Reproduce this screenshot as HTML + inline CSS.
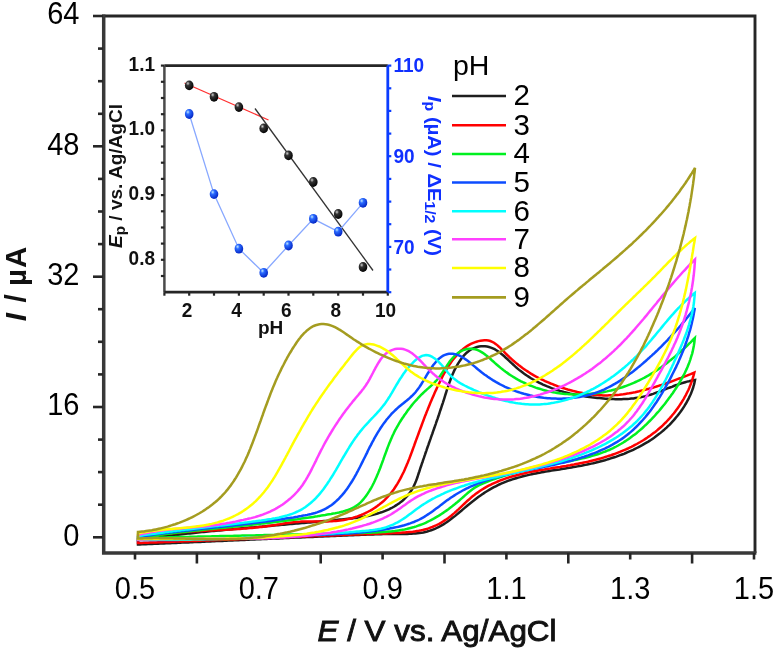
<!DOCTYPE html><html><head><meta charset="utf-8"><style>html,body{margin:0;padding:0;background:#fff;}svg{display:block;filter:blur(0.6px);}text{font-family:"Liberation Sans", sans-serif;}</style></head><body>
<svg width="778" height="651" viewBox="0 0 778 651">
<rect width="778" height="651" fill="#fff"/>
<g fill="none" stroke-width="2.5" stroke-linejoin="miter" stroke-linecap="round">
<path d="M138.0,539.6L140.0,539.3L142.0,539.1L144.0,538.8L146.0,538.5L148.0,538.3L150.0,538.0L152.0,537.8L153.9,537.5L155.9,537.3L157.9,537.0L159.9,536.8L161.9,536.5L163.9,536.3L165.9,536.1L167.9,535.8L169.9,535.6L171.9,535.4L173.9,535.1L175.9,534.9L177.9,534.7L179.9,534.4L181.9,534.2L183.9,534.0L185.9,533.8L187.9,533.6L189.9,533.4L191.9,533.2L193.9,532.9L195.9,532.7L197.9,532.5L199.9,532.3L201.9,532.1L203.9,531.9L205.9,531.7L207.9,531.5L209.9,531.3L211.9,531.1L213.9,530.9L215.9,530.7L217.9,530.5L219.9,530.4L221.9,530.2L223.9,530.0L225.9,529.8L227.9,529.6L229.9,529.4L231.9,529.2L233.9,529.0L235.9,528.9L237.9,528.7L239.9,528.5L241.9,528.3L243.9,528.1L245.9,528.0L247.9,527.8L249.9,527.6L251.9,527.4L253.9,527.3L255.9,527.1L257.9,526.9L259.9,526.7L261.9,526.6L263.9,526.4L265.9,526.2L267.9,526.0L269.9,525.9L271.9,525.7L273.9,525.5L275.9,525.3L277.9,525.2L279.9,525.0L281.9,524.8L284.0,524.7L286.0,524.5L288.0,524.3L290.0,524.1L292.0,524.0L294.0,523.8L296.0,523.6L298.0,523.4L300.0,523.3L302.0,523.1L304.0,522.9L306.0,522.7L308.0,522.6L310.0,522.4L312.0,522.2L314.0,522.0L316.0,521.8L318.0,521.7L320.0,521.5L322.0,521.3L324.0,521.1L326.0,520.9L328.0,520.7L330.0,520.6L332.0,520.4L334.0,520.2L336.0,520.0L338.0,519.8L340.0,519.6L342.0,519.4L344.0,519.2L346.0,519.0L348.0,518.8L350.0,518.6L352.0,518.4L354.0,518.1L356.0,517.9L358.0,517.6L360.0,517.3L362.0,517.0L363.9,516.7L365.9,516.3L367.9,515.9L369.9,515.5L371.8,515.1L373.8,514.6L375.7,514.1L377.6,513.5L379.6,512.9L381.5,512.3L383.4,511.6L385.2,510.9L387.1,510.1L388.9,509.3L390.7,508.4L392.5,507.5L394.3,506.5L396.0,505.4L397.7,504.3L399.3,503.2L400.9,501.9L402.5,500.7L404.0,499.3L405.4,497.9L406.8,496.5L408.1,495.0L409.4,493.4L410.5,491.8L411.6,490.1L412.6,488.3L413.6,486.6L414.4,484.7L415.2,482.9L416.0,481.0L416.7,479.2L417.4,477.3L418.0,475.4L418.6,473.5L419.3,471.5L419.9,469.6L420.5,467.7L421.2,465.8L421.8,463.9L422.5,462.0L423.1,460.1L423.8,458.2L424.4,456.3L425.1,454.4L425.7,452.5L426.4,450.6L427.0,448.7L427.7,446.8L428.4,444.9L429.0,443.0L429.7,441.1L430.4,439.2L431.0,437.3L431.7,435.4L432.4,433.5L433.0,431.6L433.7,429.7L434.4,427.8L435.0,426.0L435.7,424.1L436.3,422.2L437.0,420.3L437.7,418.4L438.3,416.5L439.0,414.5L439.6,412.6L440.2,410.7L440.9,408.8L441.5,406.9L442.1,405.0L442.8,403.1L443.4,401.2L444.0,399.3L444.6,397.4L445.2,395.4L445.8,393.5L446.4,391.6L447.0,389.7L447.6,387.8L448.3,385.9L448.9,384.0L449.6,382.1L450.3,380.2L451.0,378.3L451.7,376.4L452.5,374.6L453.3,372.7L454.1,370.9L455.0,369.1L456.0,367.3L456.9,365.6L457.9,363.8L459.0,362.1L460.1,360.5L461.3,358.8L462.5,357.2L463.8,355.7L465.2,354.2L466.6,352.8L468.2,351.5L469.8,350.3L471.5,349.2L473.3,348.3L475.1,347.6L477.0,347.0L479.0,346.5L481.0,346.3L483.0,346.2L485.0,346.3L487.0,346.6L489.0,347.0L490.9,347.6L492.8,348.4L494.6,349.2L496.3,350.2L498.0,351.3L499.6,352.5L501.2,353.7L502.8,355.0L504.3,356.3L505.8,357.7L507.3,359.0L508.7,360.4L510.2,361.8L511.6,363.2L513.1,364.5L514.6,365.9L516.1,367.3L517.6,368.6L519.1,369.9L520.7,371.1L522.3,372.3L523.9,373.5L525.6,374.7L527.2,375.8L528.9,376.9L530.6,378.0L532.3,379.0L534.1,380.0L535.8,381.0L537.6,381.9L539.4,382.8L541.2,383.7L543.0,384.6L544.9,385.4L546.7,386.2L548.6,386.9L550.5,387.7L552.3,388.4L554.2,389.0L556.1,389.7L558.0,390.3L560.0,390.9L561.9,391.4L563.8,392.0L565.8,392.5L567.7,393.0L569.7,393.5L571.6,393.9L573.6,394.3L575.6,394.7L577.6,395.1L579.5,395.5L581.5,395.8L583.5,396.1L585.5,396.4L587.5,396.7L589.5,397.0L591.5,397.3L593.4,397.5L595.4,397.7L597.4,397.9L599.4,398.1L601.4,398.3L603.4,398.5L605.5,398.7L607.5,398.8L609.5,398.9L611.5,399.0L613.5,399.1L615.5,399.2L617.5,399.2L619.5,399.2L621.5,399.2L623.5,399.1L625.5,399.0L627.5,398.9L629.5,398.8L631.5,398.6L633.5,398.4L635.5,398.1L637.5,397.8L639.5,397.5L641.5,397.1L643.4,396.6L645.4,396.2L647.3,395.6L649.3,395.1L651.2,394.5L653.1,393.9L655.0,393.2L656.9,392.5L658.8,391.8L660.7,391.1L662.5,390.4L664.4,389.7L666.3,388.9L668.1,388.2L670.0,387.5L671.9,386.8L673.8,386.0L675.7,385.3L677.5,384.7L679.4,384.0L681.4,383.4L683.3,382.8L685.2,382.2L687.1,381.6L689.1,381.2L691.0,380.7L693.0,380.3L695.0,380.0L695.0,380.0L694.6,382.0L694.2,383.9L693.6,385.9L693.1,387.8L692.4,389.7L691.7,391.6L691.0,393.5L690.2,395.3L689.3,397.1L688.5,398.9L687.5,400.7L686.6,402.5L685.5,404.2L684.5,405.9L683.4,407.6L682.3,409.3L681.1,411.0L680.0,412.6L678.7,414.2L677.5,415.8L676.2,417.3L674.9,418.9L673.6,420.4L672.2,421.9L670.9,423.3L669.5,424.8L668.0,426.2L666.6,427.6L665.1,428.9L663.6,430.3L662.0,431.6L660.5,432.9L658.9,434.1L657.3,435.3L655.7,436.5L654.1,437.7L652.4,438.9L650.8,440.0L649.1,441.1L647.4,442.2L645.6,443.2L643.9,444.2L642.2,445.2L640.4,446.2L638.6,447.1L636.8,448.0L635.0,448.9L633.2,449.8L631.4,450.6L629.5,451.4L627.7,452.2L625.8,453.0L624.0,453.8L622.1,454.5L620.2,455.2L618.3,455.9L616.4,456.6L614.5,457.2L612.6,457.8L610.7,458.4L608.8,459.0L606.8,459.6L604.9,460.2L603.0,460.7L601.0,461.2L599.1,461.7L597.1,462.2L595.2,462.7L593.2,463.2L591.3,463.6L589.3,464.1L587.3,464.5L585.4,464.9L583.4,465.3L581.4,465.7L579.4,466.0L577.5,466.4L575.5,466.8L573.5,467.1L571.5,467.4L569.5,467.8L567.5,468.1L565.5,468.4L563.6,468.7L561.6,469.0L559.6,469.4L557.6,469.7L555.6,470.0L553.6,470.3L551.6,470.6L549.7,470.9L547.7,471.3L545.7,471.6L543.7,471.9L541.7,472.3L539.7,472.7L537.8,473.0L535.8,473.4L533.8,473.8L531.8,474.2L529.9,474.6L527.9,475.1L526.0,475.6L524.0,476.0L522.1,476.5L520.1,477.1L518.2,477.6L516.2,478.2L514.3,478.8L512.4,479.4L510.5,480.0L508.6,480.7L506.7,481.4L504.9,482.1L503.0,482.9L501.1,483.7L499.3,484.5L497.5,485.4L495.7,486.3L493.9,487.2L492.1,488.2L490.4,489.2L488.7,490.2L486.9,491.2L485.2,492.3L483.6,493.4L481.9,494.5L480.2,495.7L478.6,496.8L477.0,498.0L475.4,499.2L473.8,500.5L472.2,501.7L470.6,503.0L469.1,504.2L467.5,505.5L466.0,506.8L464.4,508.1L462.9,509.4L461.4,510.7L459.8,512.0L458.3,513.3L456.7,514.6L455.2,515.9L453.6,517.1L452.0,518.3L450.4,519.6L448.8,520.7L447.1,521.9L445.5,523.0L443.8,524.1L442.1,525.2L440.3,526.2L438.5,527.1L436.7,528.0L434.9,528.9L433.0,529.6L431.2,530.3L429.2,530.9L427.3,531.5L425.3,532.0L423.4,532.4L421.4,532.7L419.4,533.0L417.4,533.2L415.4,533.4L413.4,533.6L411.4,533.7L409.4,533.8L407.4,533.9L405.4,533.9L403.3,534.0L401.3,534.0L399.3,534.0L397.3,534.0L395.3,534.0L393.3,534.0L391.3,534.0L389.3,534.0L387.3,534.0L385.2,534.1L383.2,534.1L381.2,534.2L379.2,534.2L377.2,534.3L375.2,534.3L373.2,534.4L371.2,534.5L369.2,534.5L367.1,534.6L365.1,534.7L363.1,534.8L361.1,534.8L359.1,534.9L357.1,535.0L355.1,535.1L353.1,535.2L351.1,535.2L349.1,535.3L347.0,535.4L345.0,535.5L343.0,535.6L341.0,535.7L339.0,535.7L337.0,535.8L335.0,535.9L333.0,536.0L331.0,536.1L328.9,536.2L326.9,536.3L324.9,536.3L322.9,536.4L320.9,536.5L318.9,536.6L316.9,536.7L314.9,536.8L312.9,536.9L310.9,536.9L308.8,537.0L306.8,537.1L304.8,537.2L302.8,537.3L300.8,537.4L298.8,537.5L296.8,537.6L294.8,537.6L292.8,537.7L290.8,537.8L288.7,537.9L286.7,538.0L284.7,538.1L282.7,538.2L280.7,538.3L278.7,538.4L276.7,538.4L274.7,538.5L272.7,538.6L270.7,538.7L268.6,538.8L266.6,538.9L264.6,539.0L262.6,539.1L260.6,539.2L258.6,539.3L256.6,539.3L254.6,539.4L252.6,539.5L250.6,539.6L248.6,539.7L246.5,539.8L244.5,539.9L242.5,540.0L240.5,540.1L238.5,540.2L236.5,540.2L234.5,540.3L232.5,540.4L230.5,540.5L228.5,540.6L226.4,540.7L224.4,540.8L222.4,540.9L220.4,541.0L218.4,541.1L216.4,541.1L214.4,541.2L212.4,541.3L210.4,541.4L208.4,541.5L206.3,541.6L204.3,541.7L202.3,541.8L200.3,541.9L198.3,541.9L196.3,542.0L194.3,542.1L192.3,542.2L190.3,542.3L188.3,542.4L186.2,542.5L184.2,542.6L182.2,542.6L180.2,542.7L178.2,542.8L176.2,542.9L174.2,543.0L172.2,543.1L170.2,543.2L168.2,543.2L166.1,543.3L164.1,543.4L162.1,543.5L160.1,543.6L158.1,543.7L156.1,543.8L154.1,543.8L152.1,543.9L150.1,544.0L148.1,544.1L146.0,544.2L144.0,544.3L142.0,544.3L140.0,544.4L138.0,544.5Z" stroke="#1e1e1e"/>
<path d="M138.0,539.0L140.0,538.5L141.9,538.1L143.9,537.7L145.8,537.2L147.8,536.8L149.8,536.5L151.8,536.1L153.7,535.8L155.7,535.4L157.7,535.1L159.7,534.8L161.7,534.5L163.7,534.2L165.7,534.0L167.7,533.7L169.7,533.5L171.7,533.3L173.7,533.1L175.7,532.9L177.7,532.7L179.7,532.5L181.7,532.3L183.7,532.1L185.7,532.0L187.7,531.8L189.7,531.7L191.7,531.6L193.7,531.4L195.7,531.3L197.7,531.2L199.7,531.1L201.7,531.0L203.7,530.8L205.7,530.7L207.7,530.6L209.8,530.5L211.8,530.4L213.8,530.3L215.8,530.2L217.8,530.1L219.8,530.0L221.8,529.9L223.8,529.8L225.8,529.7L227.8,529.6L229.8,529.5L231.8,529.4L233.8,529.3L235.9,529.1L237.9,529.0L239.9,528.9L241.9,528.7L243.9,528.6L245.9,528.4L247.9,528.3L249.9,528.1L251.9,527.9L253.9,527.7L255.9,527.5L257.9,527.3L259.9,527.1L261.9,526.9L263.9,526.6L265.9,526.4L267.9,526.1L269.9,525.8L271.8,525.5L273.8,525.2L275.8,524.9L277.8,524.6L279.8,524.3L281.8,523.9L283.8,523.6L285.7,523.3L287.7,523.1L289.7,522.8L291.7,522.5L293.7,522.3L295.7,522.1L297.7,521.9L299.7,521.8L301.7,521.6L303.7,521.6L305.7,521.5L307.8,521.5L309.8,521.4L311.8,521.4L313.8,521.4L315.8,521.4L317.8,521.4L319.8,521.4L321.8,521.4L323.8,521.4L325.8,521.4L327.9,521.4L329.9,521.3L331.9,521.2L333.9,521.1L335.9,520.9L337.9,520.8L339.9,520.5L341.9,520.3L343.9,519.9L345.8,519.6L347.8,519.1L349.8,518.7L351.7,518.2L353.6,517.6L355.6,517.0L357.5,516.4L359.3,515.7L361.2,515.0L363.1,514.2L364.9,513.3L366.7,512.5L368.5,511.5L370.3,510.6L372.0,509.6L373.7,508.5L375.4,507.4L377.0,506.3L378.6,505.1L380.2,503.8L381.8,502.5L383.3,501.2L384.8,499.8L386.2,498.4L387.6,497.0L388.9,495.5L390.2,494.0L391.5,492.4L392.7,490.8L393.9,489.2L395.0,487.5L396.1,485.8L397.2,484.1L398.2,482.4L399.2,480.6L400.2,478.9L401.1,477.1L402.0,475.3L402.9,473.5L403.8,471.7L404.6,469.9L405.4,468.0L406.2,466.2L407.0,464.3L407.8,462.5L408.5,460.6L409.3,458.7L410.0,456.9L410.7,455.0L411.4,453.1L412.1,451.2L412.8,449.3L413.5,447.4L414.2,445.5L414.8,443.7L415.5,441.8L416.2,439.9L416.9,438.0L417.6,436.1L418.3,434.2L419.0,432.3L419.7,430.4L420.4,428.5L421.1,426.7L421.8,424.8L422.5,422.9L423.2,421.0L423.9,419.1L424.6,417.3L425.3,415.4L426.1,413.5L426.8,411.6L427.6,409.8L428.3,407.9L429.1,406.1L429.8,404.2L430.6,402.3L431.4,400.5L432.2,398.6L433.0,396.8L433.8,394.9L434.6,393.1L435.4,391.3L436.3,389.4L437.1,387.6L437.9,385.8L438.8,384.0L439.7,382.2L440.6,380.4L441.5,378.6L442.4,376.8L443.3,375.0L444.3,373.2L445.3,371.5L446.3,369.7L447.3,368.0L448.4,366.3L449.5,364.6L450.6,363.0L451.7,361.3L452.9,359.7L454.2,358.1L455.5,356.6L456.8,355.1L458.1,353.6L459.6,352.2L461.0,350.8L462.6,349.5L464.1,348.2L465.7,347.0L467.4,345.9L469.1,344.9L470.9,343.9L472.7,343.1L474.6,342.3L476.5,341.7L478.4,341.1L480.4,340.7L482.4,340.4L484.4,340.2L486.4,340.3L488.4,340.5L490.3,341.0L492.2,341.8L494.0,342.7L495.6,343.9L497.2,345.1L498.7,346.5L500.2,347.8L501.6,349.3L503.0,350.7L504.4,352.2L505.8,353.6L507.2,355.0L508.7,356.4L510.1,357.8L511.6,359.1L513.1,360.5L514.6,361.8L516.2,363.1L517.7,364.3L519.3,365.6L520.9,366.8L522.5,368.0L524.2,369.2L525.8,370.3L527.5,371.4L529.2,372.5L530.9,373.6L532.6,374.6L534.3,375.6L536.1,376.6L537.9,377.5L539.7,378.5L541.5,379.4L543.3,380.2L545.1,381.1L546.9,381.9L548.8,382.7L550.6,383.5L552.5,384.2L554.4,385.0L556.2,385.7L558.1,386.4L560.0,387.0L561.9,387.7L563.8,388.3L565.8,388.9L567.7,389.5L569.6,390.0L571.6,390.5L573.5,391.1L575.5,391.5L577.4,392.0L579.4,392.4L581.3,392.8L583.3,393.2L585.3,393.6L587.3,393.9L589.3,394.2L591.3,394.5L593.3,394.7L595.3,394.9L597.3,395.1L599.3,395.2L601.3,395.3L603.3,395.4L605.3,395.4L607.3,395.4L609.3,395.3L611.3,395.3L613.3,395.2L615.3,395.0L617.3,394.9L619.3,394.7L621.3,394.4L623.3,394.2L625.3,393.9L627.3,393.6L629.3,393.3L631.3,392.9L633.2,392.6L635.2,392.2L637.2,391.7L639.1,391.3L641.1,390.8L643.1,390.3L645.0,389.8L646.9,389.3L648.9,388.8L650.8,388.2L652.7,387.7L654.7,387.1L656.6,386.5L658.5,385.9L660.4,385.3L662.3,384.6L664.2,384.0L666.1,383.3L668.0,382.7L669.9,382.0L671.8,381.3L673.7,380.6L675.6,379.9L677.5,379.2L679.3,378.5L681.2,377.8L683.1,377.0L685.0,376.3L686.8,375.6L688.7,374.8L690.6,374.1L692.4,373.3L694.3,372.6L694.3,372.6L693.8,374.6L693.3,376.5L692.7,378.4L692.1,380.3L691.5,382.2L690.8,384.1L690.0,386.0L689.3,387.8L688.5,389.7L687.6,391.5L686.7,393.3L685.8,395.1L684.8,396.8L683.9,398.6L682.8,400.3L681.8,402.0L680.7,403.7L679.6,405.4L678.5,407.1L677.3,408.7L676.1,410.3L674.9,411.9L673.7,413.5L672.4,415.0L671.1,416.6L669.8,418.1L668.4,419.6L667.1,421.0L665.7,422.5L664.2,423.9L662.8,425.3L661.3,426.7L659.8,428.0L658.3,429.3L656.8,430.6L655.2,431.9L653.6,433.1L652.0,434.3L650.4,435.5L648.7,436.6L647.1,437.8L645.4,438.9L643.7,440.0L642.0,441.0L640.3,442.0L638.5,443.0L636.8,444.0L635.0,444.9L633.2,445.9L631.4,446.8L629.6,447.6L627.8,448.5L626.0,449.3L624.1,450.1L622.3,450.9L620.4,451.7L618.6,452.4L616.7,453.1L614.8,453.8L612.9,454.5L611.0,455.2L609.1,455.8L607.2,456.4L605.3,457.0L603.4,457.6L601.4,458.2L599.5,458.7L597.6,459.2L595.6,459.8L593.7,460.2L591.7,460.7L589.8,461.2L587.8,461.7L585.9,462.1L583.9,462.5L581.9,462.9L580.0,463.3L578.0,463.7L576.0,464.1L574.1,464.5L572.1,464.8L570.1,465.2L568.1,465.5L566.1,465.9L564.2,466.2L562.2,466.5L560.2,466.9L558.2,467.2L556.2,467.5L554.3,467.8L552.3,468.1L550.3,468.5L548.3,468.8L546.3,469.1L544.4,469.5L542.4,469.8L540.4,470.1L538.4,470.5L536.4,470.9L534.5,471.2L532.5,471.6L530.5,472.0L528.6,472.4L526.6,472.8L524.6,473.3L522.7,473.7L520.7,474.2L518.8,474.7L516.8,475.2L514.9,475.7L513.0,476.2L511.0,476.8L509.1,477.4L507.2,478.0L505.3,478.6L503.4,479.3L501.5,480.0L499.7,480.7L497.8,481.5L495.9,482.3L494.1,483.1L492.3,483.9L490.5,484.8L488.7,485.7L486.9,486.7L485.2,487.7L483.5,488.7L481.7,489.7L480.1,490.8L478.4,492.0L476.8,493.1L475.2,494.3L473.6,495.6L472.0,496.8L470.5,498.1L469.0,499.5L467.5,500.8L466.0,502.2L464.6,503.5L463.1,504.9L461.6,506.3L460.2,507.7L458.7,509.1L457.2,510.4L455.8,511.8L454.3,513.1L452.7,514.4L451.2,515.7L449.6,516.9L448.0,518.2L446.4,519.3L444.7,520.4L443.0,521.5L441.3,522.6L439.6,523.6L437.8,524.5L436.0,525.4L434.2,526.2L432.3,527.0L430.4,527.7L428.5,528.4L426.6,529.0L424.7,529.5L422.7,530.0L420.8,530.4L418.8,530.8L416.8,531.1L414.8,531.4L412.8,531.7L410.8,531.9L408.8,532.1L406.8,532.3L404.8,532.5L402.8,532.6L400.8,532.7L398.8,532.9L396.8,533.0L394.8,533.0L392.8,533.1L390.8,533.2L388.8,533.3L386.8,533.4L384.8,533.4L382.8,533.5L380.8,533.6L378.8,533.7L376.8,533.7L374.8,533.8L372.7,533.9L370.7,534.0L368.7,534.0L366.7,534.1L364.7,534.2L362.7,534.3L360.7,534.3L358.7,534.4L356.7,534.5L354.7,534.5L352.7,534.6L350.7,534.7L348.7,534.8L346.7,534.8L344.7,534.9L342.7,535.0L340.6,535.1L338.6,535.2L336.6,535.2L334.6,535.3L332.6,535.4L330.6,535.5L328.6,535.5L326.6,535.6L324.6,535.7L322.6,535.8L320.6,535.9L318.6,535.9L316.6,536.0L314.6,536.1L312.6,536.2L310.5,536.3L308.5,536.3L306.5,536.4L304.5,536.5L302.5,536.6L300.5,536.7L298.5,536.7L296.5,536.8L294.5,536.9L292.5,537.0L290.5,537.1L288.5,537.1L286.5,537.2L284.5,537.3L282.5,537.4L280.5,537.5L278.4,537.6L276.4,537.6L274.4,537.7L272.4,537.8L270.4,537.9L268.4,538.0L266.4,538.0L264.4,538.1L262.4,538.2L260.4,538.3L258.4,538.4L256.4,538.5L254.4,538.5L252.4,538.6L250.4,538.7L248.4,538.8L246.3,538.9L244.3,538.9L242.3,539.0L240.3,539.1L238.3,539.2L236.3,539.3L234.3,539.4L232.3,539.4L230.3,539.5L228.3,539.6L226.3,539.7L224.3,539.8L222.3,539.8L220.3,539.9L218.3,540.0L216.3,540.1L214.2,540.2L212.2,540.2L210.2,540.3L208.2,540.4L206.2,540.5L204.2,540.6L202.2,540.6L200.2,540.7L198.2,540.8L196.2,540.9L194.2,541.0L192.2,541.0L190.2,541.1L188.2,541.2L186.2,541.3L184.2,541.3L182.1,541.4L180.1,541.5L178.1,541.6L176.1,541.6L174.1,541.7L172.1,541.8L170.1,541.9L168.1,541.9L166.1,542.0L164.1,542.1L162.1,542.2L160.1,542.2L158.1,542.3L156.1,542.4L154.1,542.4L152.0,542.5L150.0,542.6L148.0,542.7L146.0,542.7L144.0,542.8L142.0,542.9L140.0,542.9L138.0,543.0Z" stroke="#ff0000"/>
<path d="M138.0,537.5L140.0,537.2L142.0,537.0L144.0,536.7L146.0,536.4L147.9,536.2L149.9,535.9L151.9,535.6L153.9,535.4L155.9,535.1L157.9,534.9L159.9,534.6L161.9,534.4L163.9,534.2L165.9,533.9L167.9,533.7L169.9,533.5L171.8,533.2L173.8,533.0L175.8,532.8L177.8,532.5L179.8,532.3L181.8,532.1L183.8,531.9L185.8,531.7L187.8,531.4L189.8,531.2L191.8,531.0L193.8,530.8L195.8,530.6L197.8,530.4L199.8,530.2L201.8,530.0L203.8,529.8L205.8,529.5L207.8,529.3L209.8,529.1L211.8,528.9L213.8,528.7L215.8,528.5L217.7,528.3L219.7,528.1L221.7,527.9L223.7,527.7L225.7,527.5L227.7,527.3L229.7,527.1L231.7,526.9L233.7,526.6L235.7,526.4L237.7,526.2L239.7,526.0L241.7,525.8L243.7,525.6L245.7,525.4L247.7,525.2L249.7,525.0L251.7,524.7L253.7,524.5L255.7,524.3L257.7,524.1L259.7,523.9L261.7,523.6L263.6,523.4L265.6,523.2L267.6,522.9L269.6,522.7L271.6,522.5L273.6,522.2L275.6,522.0L277.6,521.7L279.6,521.5L281.6,521.3L283.6,521.0L285.6,520.8L287.6,520.5L289.5,520.2L291.5,520.0L293.5,519.7L295.5,519.4L297.5,519.2L299.5,518.9L301.5,518.6L303.5,518.3L305.5,518.1L307.4,517.8L309.4,517.5L311.4,517.2L313.4,516.9L315.4,516.6L317.4,516.3L319.3,515.9L321.3,515.6L323.3,515.3L325.3,515.0L327.3,514.6L329.2,514.3L331.2,514.0L333.2,513.6L335.2,513.3L337.1,512.9L339.1,512.5L341.1,512.0L343.0,511.5L344.9,510.9L346.8,510.3L348.7,509.6L350.6,508.9L352.4,508.0L354.2,507.1L355.9,506.1L357.5,504.9L359.1,503.7L360.6,502.3L362.0,500.9L363.3,499.4L364.6,497.8L365.8,496.2L367.0,494.6L368.1,492.9L369.2,491.2L370.2,489.5L371.2,487.8L372.2,486.0L373.1,484.2L374.0,482.5L374.9,480.6L375.7,478.8L376.5,477.0L377.3,475.1L378.1,473.3L378.8,471.4L379.6,469.6L380.3,467.7L381.0,465.8L381.7,463.9L382.4,462.0L383.1,460.1L383.7,458.3L384.4,456.4L385.1,454.5L385.8,452.6L386.5,450.7L387.2,448.8L387.9,446.9L388.6,445.1L389.3,443.2L390.1,441.4L390.9,439.5L391.7,437.7L392.5,435.8L393.4,434.0L394.2,432.2L395.1,430.4L396.1,428.7L397.1,426.9L398.1,425.2L399.1,423.4L400.1,421.7L401.2,420.0L402.3,418.3L403.4,416.7L404.5,415.0L405.7,413.4L406.9,411.7L408.0,410.1L409.3,408.5L410.5,406.9L411.7,405.4L413.0,403.8L414.3,402.3L415.6,400.8L417.0,399.3L418.3,397.8L419.7,396.3L421.1,394.9L422.6,393.5L424.0,392.1L425.5,390.8L427.0,389.4L428.5,388.1L430.0,386.8L431.5,385.4L432.9,384.1L434.4,382.7L435.8,381.2L437.1,379.7L438.4,378.2L439.6,376.6L440.8,374.9L441.9,373.3L443.0,371.6L444.1,369.9L445.2,368.2L446.3,366.6L447.4,364.9L448.6,363.2L449.7,361.6L450.9,360.0L452.2,358.5L453.6,357.0L455.0,355.5L456.5,354.2L458.0,353.0L459.7,351.9L461.5,350.9L463.3,350.1L465.2,349.5L467.2,349.1L469.2,348.8L471.2,348.8L473.2,348.9L475.2,349.3L477.1,349.9L478.9,350.7L480.7,351.6L482.4,352.6L484.1,353.7L485.7,355.0L487.3,356.2L488.8,357.5L490.3,358.8L491.8,360.2L493.3,361.5L494.8,362.9L496.3,364.2L497.8,365.5L499.3,366.8L500.9,368.1L502.4,369.3L504.0,370.6L505.6,371.8L507.3,372.9L508.9,374.1L510.6,375.2L512.3,376.3L514.0,377.3L515.7,378.4L517.4,379.4L519.2,380.3L521.0,381.3L522.8,382.2L524.6,383.0L526.4,383.9L528.2,384.7L530.1,385.5L532.0,386.2L533.8,386.9L535.7,387.6L537.6,388.2L539.5,388.8L541.5,389.4L543.4,390.0L545.3,390.5L547.3,391.0L549.2,391.4L551.2,391.8L553.2,392.2L555.1,392.6L557.1,392.9L559.1,393.2L561.1,393.5L563.1,393.7L565.1,393.9L567.1,394.1L569.1,394.2L571.1,394.3L573.1,394.4L575.1,394.5L577.1,394.5L579.1,394.5L581.1,394.5L583.1,394.4L585.1,394.3L587.1,394.2L589.1,394.0L591.1,393.8L593.1,393.6L595.1,393.4L597.1,393.1L599.1,392.8L601.1,392.5L603.1,392.2L605.0,391.8L607.0,391.4L609.0,390.9L610.9,390.5L612.9,390.0L614.8,389.5L616.7,388.9L618.6,388.4L620.6,387.8L622.5,387.2L624.4,386.5L626.3,385.8L628.1,385.1L630.0,384.4L631.9,383.6L633.7,382.9L635.6,382.0L637.4,381.2L639.2,380.3L641.0,379.5L642.8,378.5L644.6,377.6L646.3,376.6L648.1,375.7L649.8,374.6L651.5,373.6L653.2,372.6L654.9,371.5L656.6,370.4L658.3,369.3L659.9,368.1L661.6,367.0L663.2,365.8L664.8,364.6L666.4,363.4L668.0,362.2L669.6,360.9L671.1,359.7L672.7,358.4L674.3,357.1L675.8,355.9L677.3,354.5L678.8,353.2L680.3,351.9L681.8,350.5L683.3,349.2L684.8,347.8L686.2,346.5L687.7,345.1L689.1,343.7L690.6,342.3L692.0,340.9L693.4,339.4L694.8,338.0L694.8,338.0L694.6,340.0L694.4,342.0L694.1,344.0L693.8,346.0L693.4,347.9L693.0,349.9L692.6,351.9L692.1,353.8L691.5,355.7L690.9,357.6L690.3,359.6L689.7,361.4L689.0,363.3L688.2,365.2L687.5,367.0L686.7,368.9L685.8,370.7L685.0,372.5L684.1,374.3L683.1,376.1L682.2,377.9L681.2,379.6L680.2,381.4L679.2,383.1L678.2,384.8L677.1,386.5L676.0,388.2L674.9,389.9L673.8,391.5L672.7,393.2L671.5,394.8L670.3,396.5L669.1,398.1L667.9,399.7L666.7,401.3L665.5,402.9L664.3,404.5L663.0,406.0L661.7,407.6L660.5,409.1L659.2,410.7L657.9,412.2L656.5,413.7L655.2,415.2L653.9,416.7L652.5,418.1L651.1,419.6L649.7,421.0L648.3,422.4L646.9,423.9L645.4,425.2L643.9,426.6L642.5,428.0L641.0,429.3L639.4,430.6L637.9,431.9L636.4,433.2L634.8,434.4L633.2,435.6L631.6,436.8L630.0,438.0L628.3,439.2L626.7,440.3L625.0,441.4L623.3,442.5L621.6,443.5L619.8,444.5L618.1,445.5L616.3,446.5L614.5,447.4L612.7,448.3L610.9,449.1L609.1,450.0L607.3,450.7L605.4,451.5L603.5,452.2L601.6,452.9L599.7,453.6L597.8,454.2L595.9,454.8L594.0,455.4L592.1,455.9L590.1,456.5L588.2,457.0L586.3,457.5L584.3,458.0L582.4,458.4L580.4,458.9L578.4,459.3L576.5,459.7L574.5,460.1L572.5,460.5L570.6,460.9L568.6,461.2L566.6,461.6L564.7,462.0L562.7,462.3L560.7,462.7L558.7,463.0L556.7,463.4L554.8,463.7L552.8,464.1L550.8,464.4L548.8,464.8L546.9,465.2L544.9,465.5L542.9,465.9L541.0,466.3L539.0,466.7L537.0,467.1L535.1,467.5L533.1,468.0L531.2,468.4L529.2,468.9L527.3,469.3L525.3,469.8L523.4,470.3L521.4,470.8L519.5,471.3L517.5,471.9L515.6,472.4L513.7,473.0L511.8,473.5L509.8,474.1L507.9,474.7L506.0,475.3L504.1,475.9L502.2,476.5L500.3,477.1L498.4,477.7L496.5,478.4L494.6,479.0L492.7,479.7L490.8,480.4L488.9,481.0L487.0,481.8L485.2,482.5L483.3,483.3L481.5,484.1L479.7,485.0L477.9,485.9L476.1,486.9L474.4,487.9L472.8,489.1L471.2,490.3L469.6,491.5L468.0,492.8L466.5,494.1L465.0,495.4L463.5,496.8L462.0,498.1L460.5,499.4L459.0,500.7L457.5,502.0L455.9,503.3L454.4,504.6L452.8,505.8L451.2,507.1L449.6,508.3L448.0,509.5L446.4,510.6L444.7,511.8L443.1,512.9L441.4,514.0L439.7,515.1L438.0,516.2L436.3,517.2L434.6,518.2L432.8,519.2L431.0,520.1L429.2,521.0L427.4,521.9L425.6,522.8L423.8,523.6L421.9,524.3L420.0,525.0L418.2,525.7L416.3,526.4L414.3,527.0L412.4,527.5L410.5,528.0L408.5,528.5L406.6,529.0L404.6,529.4L402.6,529.7L400.7,530.1L398.7,530.4L396.7,530.7L394.7,531.0L392.7,531.2L390.7,531.4L388.7,531.6L386.7,531.8L384.7,532.0L382.7,532.1L380.7,532.2L378.7,532.3L376.7,532.4L374.7,532.5L372.7,532.6L370.7,532.7L368.7,532.7L366.7,532.8L364.7,532.8L362.7,532.9L360.7,532.9L358.7,533.0L356.7,533.0L354.6,533.1L352.6,533.1L350.6,533.2L348.6,533.2L346.6,533.3L344.6,533.3L342.6,533.3L340.6,533.4L338.6,533.4L336.6,533.5L334.6,533.5L332.6,533.6L330.6,533.6L328.6,533.7L326.6,533.7L324.6,533.8L322.5,533.8L320.5,533.9L318.5,533.9L316.5,533.9L314.5,534.0L312.5,534.0L310.5,534.1L308.5,534.1L306.5,534.2L304.5,534.2L302.5,534.3L300.5,534.3L298.5,534.4L296.5,534.4L294.5,534.5L292.5,534.5L290.5,534.5L288.4,534.6L286.4,534.6L284.4,534.7L282.4,534.7L280.4,534.8L278.4,534.8L276.4,534.9L274.4,534.9L272.4,535.0L270.4,535.0L268.4,535.1L266.4,535.1L264.4,535.1L262.4,535.2L260.4,535.2L258.4,535.3L256.4,535.3L254.3,535.4L252.3,535.4L250.3,535.5L248.3,535.5L246.3,535.6L244.3,535.6L242.3,535.6L240.3,535.7L238.3,535.7L236.3,535.8L234.3,535.8L232.3,535.9L230.3,535.9L228.3,536.0L226.3,536.0L224.3,536.1L222.3,536.1L220.2,536.1L218.2,536.2L216.2,536.2L214.2,536.3L212.2,536.3L210.2,536.4L208.2,536.4L206.2,536.5L204.2,536.5L202.2,536.6L200.2,536.6L198.2,536.6L196.2,536.7L194.2,536.7L192.2,536.8L190.2,536.8L188.1,536.9L186.1,536.9L184.1,537.0L182.1,537.0L180.1,537.1L178.1,537.1L176.1,537.1L174.1,537.2L172.1,537.2L170.1,537.3L168.1,537.3L166.1,537.4L164.1,537.4L162.1,537.5L160.1,537.5L158.1,537.5L156.1,537.6L154.0,537.6L152.0,537.7L150.0,537.7L148.0,537.8L146.0,537.8L144.0,537.9L142.0,537.9L140.0,538.0L138.0,538.0Z" stroke="#00f020"/>
<path d="M138.0,537.0L140.0,536.7L142.0,536.4L144.0,536.1L145.9,535.8L147.9,535.5L149.9,535.2L151.9,534.9L153.9,534.6L155.9,534.3L157.9,534.1L159.9,533.8L161.9,533.5L163.8,533.3L165.8,533.0L167.8,532.8L169.8,532.5L171.8,532.3L173.8,532.0L175.8,531.8L177.8,531.5L179.8,531.3L181.8,531.1L183.8,530.8L185.8,530.6L187.8,530.4L189.8,530.2L191.8,529.9L193.8,529.7L195.8,529.5L197.8,529.3L199.7,529.0L201.7,528.8L203.7,528.6L205.7,528.4L207.7,528.2L209.7,528.0L211.7,527.7L213.7,527.5L215.7,527.3L217.7,527.1L219.7,526.9L221.7,526.7L223.7,526.5L225.7,526.2L227.7,526.0L229.7,525.8L231.7,525.6L233.7,525.4L235.7,525.1L237.7,524.9L239.7,524.7L241.7,524.4L243.7,524.2L245.7,524.0L247.7,523.7L249.7,523.5L251.7,523.3L253.6,523.0L255.6,522.8L257.6,522.5L259.6,522.3L261.6,522.0L263.6,521.8L265.6,521.5L267.6,521.2L269.6,521.0L271.6,520.7L273.6,520.4L275.5,520.1L277.5,519.8L279.5,519.5L281.5,519.2L283.5,518.9L285.5,518.6L287.5,518.3L289.4,518.0L291.4,517.7L293.4,517.4L295.4,517.0L297.4,516.7L299.4,516.3L301.3,516.0L303.3,515.6L305.3,515.3L307.2,514.9L309.2,514.4L311.2,514.0L313.1,513.5L315.1,513.0L317.0,512.4L318.9,511.7L320.7,511.0L322.6,510.2L324.4,509.3L326.2,508.4L327.9,507.4L329.6,506.3L331.3,505.2L332.9,504.0L334.4,502.7L335.9,501.4L337.4,500.0L338.9,498.6L340.2,497.2L341.6,495.7L342.9,494.1L344.2,492.6L345.4,491.0L346.6,489.4L347.8,487.8L348.9,486.1L350.0,484.4L351.1,482.7L352.2,481.0L353.2,479.3L354.2,477.6L355.2,475.8L356.2,474.1L357.1,472.3L358.1,470.5L359.0,468.7L359.9,467.0L360.8,465.2L361.7,463.4L362.6,461.6L363.5,459.8L364.4,458.0L365.3,456.2L366.2,454.4L367.1,452.6L367.9,450.8L368.8,449.0L369.7,447.2L370.7,445.4L371.6,443.6L372.5,441.8L373.5,440.1L374.4,438.3L375.4,436.5L376.4,434.8L377.4,433.1L378.5,431.4L379.6,429.7L380.6,428.0L381.8,426.3L382.9,424.6L384.1,423.0L385.3,421.4L386.5,419.8L387.8,418.3L389.1,416.7L390.4,415.2L391.7,413.7L393.1,412.3L394.6,410.9L396.0,409.5L397.5,408.1L399.0,406.8L400.6,405.5L402.1,404.3L403.7,403.0L405.2,401.7L406.8,400.5L408.3,399.2L409.9,397.9L411.3,396.5L412.8,395.1L414.2,393.7L415.5,392.2L416.8,390.6L418.0,389.0L419.2,387.4L420.3,385.7L421.4,384.0L422.4,382.3L423.5,380.6L424.5,378.9L425.6,377.2L426.6,375.4L427.6,373.7L428.7,372.0L429.7,370.3L430.8,368.6L432.0,367.0L433.1,365.3L434.4,363.7L435.6,362.2L437.0,360.7L438.4,359.2L439.9,357.9L441.5,356.7L443.2,355.6L445.0,354.8L446.9,354.2L448.9,353.8L450.9,353.7L452.9,353.8L454.9,354.1L456.8,354.7L458.7,355.4L460.5,356.2L462.3,357.2L464.0,358.3L465.6,359.4L467.3,360.6L468.9,361.8L470.4,363.0L472.0,364.3L473.5,365.6L475.1,366.9L476.6,368.2L478.1,369.5L479.7,370.7L481.2,372.0L482.8,373.2L484.4,374.4L486.1,375.6L487.7,376.8L489.4,377.9L491.1,379.0L492.8,380.1L494.5,381.1L496.2,382.1L498.0,383.1L499.7,384.1L501.5,385.0L503.3,385.9L505.1,386.8L506.9,387.6L508.8,388.4L510.6,389.2L512.5,390.0L514.4,390.7L516.2,391.4L518.1,392.0L520.1,392.6L522.0,393.2L523.9,393.8L525.8,394.3L527.8,394.8L529.7,395.3L531.7,395.7L533.7,396.2L535.6,396.5L537.6,396.9L539.6,397.2L541.6,397.5L543.6,397.8L545.6,398.0L547.6,398.2L549.6,398.3L551.6,398.5L553.6,398.6L555.6,398.6L557.6,398.7L559.6,398.7L561.6,398.7L563.6,398.6L565.6,398.5L567.6,398.4L569.6,398.2L571.6,398.0L573.6,397.8L575.6,397.5L577.6,397.2L579.6,396.9L581.6,396.5L583.5,396.1L585.5,395.7L587.4,395.2L589.4,394.7L591.3,394.2L593.2,393.6L595.1,393.0L597.0,392.3L598.9,391.6L600.8,390.9L602.6,390.1L604.5,389.3L606.3,388.4L608.1,387.5L609.9,386.6L611.7,385.7L613.4,384.7L615.2,383.7L616.9,382.7L618.6,381.6L620.3,380.5L622.0,379.4L623.6,378.3L625.3,377.2L626.9,376.0L628.6,374.8L630.2,373.6L631.8,372.4L633.4,371.2L634.9,370.0L636.5,368.7L638.1,367.4L639.6,366.2L641.2,364.9L642.7,363.6L644.2,362.3L645.7,361.0L647.2,359.6L648.7,358.3L650.2,356.9L651.7,355.6L653.2,354.2L654.7,352.9L656.1,351.5L657.6,350.1L659.0,348.7L660.4,347.3L661.9,345.9L663.3,344.4L664.7,343.0L666.1,341.5L667.5,340.1L668.8,338.6L670.2,337.2L671.6,335.7L672.9,334.2L674.3,332.7L675.6,331.2L677.0,329.7L678.3,328.2L679.6,326.7L680.9,325.2L682.2,323.6L683.5,322.1L684.8,320.6L686.1,319.0L687.3,317.5L688.6,315.9L689.9,314.3L691.1,312.8L692.3,311.2L693.6,309.6L694.8,308.0L694.8,308.0L694.5,310.0L694.1,312.0L693.8,313.9L693.4,315.9L693.0,317.9L692.6,319.8L692.1,321.8L691.7,323.8L691.2,325.7L690.7,327.7L690.2,329.6L689.6,331.5L689.0,333.5L688.5,335.4L687.9,337.3L687.2,339.2L686.6,341.1L685.9,343.0L685.3,344.9L684.6,346.8L683.9,348.7L683.2,350.5L682.4,352.4L681.7,354.3L680.9,356.1L680.1,358.0L679.3,359.8L678.5,361.7L677.7,363.5L676.8,365.3L676.0,367.1L675.1,368.9L674.2,370.7L673.3,372.5L672.4,374.3L671.5,376.1L670.6,377.9L669.7,379.7L668.7,381.5L667.8,383.2L666.8,385.0L665.8,386.7L664.8,388.5L663.8,390.2L662.8,392.0L661.8,393.7L660.7,395.4L659.7,397.1L658.6,398.8L657.5,400.5L656.4,402.2L655.3,403.8L654.1,405.5L653.0,407.1L651.8,408.8L650.6,410.4L649.4,412.0L648.1,413.6L646.9,415.1L645.6,416.7L644.3,418.2L643.0,419.7L641.7,421.2L640.3,422.7L638.9,424.2L637.5,425.6L636.1,427.0L634.6,428.4L633.2,429.8L631.7,431.1L630.2,432.4L628.6,433.7L627.0,435.0L625.4,436.2L623.8,437.4L622.2,438.6L620.5,439.7L618.9,440.8L617.2,441.9L615.4,442.9L613.7,443.9L612.0,444.9L610.2,445.8L608.4,446.8L606.6,447.7L604.8,448.6L603.0,449.4L601.1,450.2L599.3,451.0L597.5,451.8L595.6,452.6L593.7,453.3L591.8,454.0L590.0,454.7L588.1,455.4L586.2,456.0L584.3,456.7L582.4,457.3L580.4,457.9L578.5,458.5L576.6,459.1L574.7,459.6L572.7,460.2L570.8,460.7L568.8,461.2L566.9,461.7L565.0,462.2L563.0,462.7L561.0,463.1L559.1,463.6L557.1,464.0L555.2,464.5L553.2,464.9L551.2,465.3L549.3,465.8L547.3,466.2L545.4,466.6L543.4,467.0L541.4,467.4L539.4,467.8L537.5,468.2L535.5,468.6L533.5,468.9L531.6,469.3L529.6,469.7L527.6,470.1L525.6,470.5L523.7,470.9L521.7,471.3L519.7,471.7L517.8,472.1L515.8,472.5L513.8,472.9L511.9,473.3L509.9,473.8L508.0,474.2L506.0,474.7L504.1,475.2L502.1,475.7L500.2,476.2L498.2,476.7L496.3,477.2L494.4,477.8L492.4,478.4L490.5,479.0L488.6,479.6L486.7,480.2L484.8,480.9L482.9,481.6L481.0,482.3L479.1,483.0L477.3,483.7L475.4,484.5L473.6,485.3L471.7,486.1L469.9,486.9L468.1,487.8L466.3,488.7L464.5,489.6L462.7,490.5L461.0,491.5L459.2,492.5L457.5,493.5L455.8,494.5L454.1,495.6L452.4,496.7L450.7,497.8L449.1,499.0L447.4,500.1L445.8,501.3L444.2,502.5L442.6,503.7L441.0,504.9L439.4,506.2L437.8,507.4L436.2,508.6L434.6,509.8L433.0,511.0L431.3,512.2L429.7,513.3L428.0,514.4L426.3,515.5L424.6,516.6L422.9,517.6L421.1,518.6L419.4,519.5L417.6,520.4L415.7,521.2L413.9,522.0L412.0,522.7L410.1,523.4L408.2,524.0L406.3,524.6L404.4,525.2L402.4,525.7L400.5,526.2L398.5,526.7L396.6,527.1L394.6,527.5L392.6,527.9L390.7,528.3L388.7,528.7L386.7,529.0L384.7,529.4L382.7,529.7L380.8,530.0L378.8,530.3L376.8,530.6L374.8,530.9L372.8,531.1L370.8,531.4L368.8,531.6L366.8,531.8L364.8,532.0L362.8,532.2L360.8,532.4L358.8,532.6L356.8,532.8L354.8,532.9L352.8,533.1L350.8,533.2L348.8,533.4L346.8,533.5L344.8,533.6L342.8,533.8L340.8,533.9L338.8,534.0L336.8,534.1L334.8,534.2L332.8,534.3L330.7,534.4L328.7,534.5L326.7,534.6L324.7,534.7L322.7,534.8L320.7,534.9L318.7,535.0L316.7,535.1L314.7,535.1L312.7,535.2L310.7,535.3L308.7,535.4L306.7,535.5L304.7,535.6L302.7,535.7L300.6,535.8L298.6,535.9L296.6,536.0L294.6,536.1L292.6,536.1L290.6,536.2L288.6,536.3L286.6,536.4L284.6,536.5L282.6,536.6L280.6,536.7L278.6,536.8L276.6,536.8L274.6,536.9L272.5,537.0L270.5,537.1L268.5,537.2L266.5,537.3L264.5,537.4L262.5,537.4L260.5,537.5L258.5,537.6L256.5,537.7L254.5,537.8L252.5,537.8L250.5,537.9L248.5,538.0L246.5,538.1L244.4,538.1L242.4,538.2L240.4,538.3L238.4,538.4L236.4,538.4L234.4,538.5L232.4,538.6L230.4,538.6L228.4,538.7L226.4,538.8L224.4,538.8L222.4,538.9L220.4,538.9L218.3,539.0L216.3,539.1L214.3,539.1L212.3,539.2L210.3,539.2L208.3,539.3L206.3,539.3L204.3,539.4L202.3,539.4L200.3,539.5L198.3,539.5L196.3,539.6L194.2,539.6L192.2,539.6L190.2,539.7L188.2,539.7L186.2,539.8L184.2,539.8L182.2,539.8L180.2,539.8L178.2,539.9L176.2,539.9L174.2,539.9L172.2,539.9L170.1,540.0L168.1,540.0L166.1,540.0L164.1,540.0L162.1,540.0L160.1,540.0L158.1,540.0L156.1,540.0L154.1,540.1L152.1,540.1L150.1,540.1L148.0,540.0L146.0,540.0L144.0,540.0L142.0,540.0L140.0,540.0L138.0,540.0Z" stroke="#0c4cff"/>
<path d="M138.0,536.0L140.0,535.7L142.0,535.4L144.0,535.1L145.9,534.8L147.9,534.6L149.9,534.3L151.9,534.0L153.9,533.7L155.9,533.5L157.9,533.2L159.9,532.9L161.8,532.7L163.8,532.4L165.8,532.1L167.8,531.9L169.8,531.6L171.8,531.4L173.8,531.1L175.8,530.9L177.8,530.6L179.8,530.4L181.8,530.1L183.7,529.9L185.7,529.6L187.7,529.4L189.7,529.2L191.7,528.9L193.7,528.7L195.7,528.4L197.7,528.2L199.7,528.0L201.7,527.7L203.7,527.5L205.7,527.3L207.7,527.0L209.7,526.8L211.6,526.6L213.6,526.3L215.6,526.1L217.6,525.9L219.6,525.6L221.6,525.4L223.6,525.2L225.6,524.9L227.6,524.7L229.6,524.5L231.6,524.2L233.6,524.0L235.6,523.8L237.6,523.5L239.5,523.3L241.5,523.0L243.5,522.8L245.5,522.5L247.5,522.3L249.5,522.0L251.5,521.8L253.5,521.5L255.5,521.3L257.5,521.0L259.5,520.7L261.4,520.5L263.4,520.2L265.4,519.9L267.4,519.6L269.4,519.3L271.4,519.0L273.3,518.6L275.3,518.3L277.3,517.9L279.3,517.5L281.2,517.0L283.2,516.5L285.1,516.0L287.0,515.5L288.9,514.9L290.8,514.3L292.7,513.6L294.6,512.8L296.4,512.0L298.3,511.2L300.0,510.3L301.8,509.3L303.5,508.3L305.2,507.2L306.8,506.0L308.4,504.8L310.0,503.5L311.5,502.2L313.0,500.9L314.5,499.5L315.9,498.1L317.2,496.6L318.6,495.1L319.9,493.6L321.2,492.0L322.4,490.5L323.6,488.9L324.8,487.2L326.0,485.6L327.1,484.0L328.2,482.3L329.4,480.6L330.4,478.9L331.5,477.2L332.6,475.5L333.6,473.8L334.6,472.1L335.7,470.4L336.7,468.6L337.7,466.9L338.7,465.2L339.7,463.4L340.7,461.7L341.7,460.0L342.7,458.2L343.7,456.5L344.7,454.8L345.8,453.0L346.8,451.3L347.8,449.6L348.9,447.9L349.9,446.2L351.0,444.5L352.1,442.8L353.2,441.1L354.3,439.5L355.5,437.8L356.7,436.2L357.8,434.6L359.1,433.0L360.3,431.4L361.6,429.9L362.9,428.3L364.2,426.8L365.5,425.3L366.9,423.8L368.3,422.4L369.6,420.9L371.0,419.4L372.4,418.0L373.8,416.5L375.1,415.1L376.5,413.6L377.8,412.1L379.2,410.6L380.5,409.1L381.8,407.5L383.0,406.0L384.3,404.4L385.5,402.8L386.6,401.1L387.7,399.5L388.8,397.8L389.9,396.1L390.9,394.4L392.0,392.7L393.0,390.9L394.0,389.2L395.0,387.5L396.0,385.7L397.0,384.0L398.1,382.3L399.1,380.5L400.2,378.8L401.3,377.2L402.4,375.5L403.5,373.8L404.7,372.2L405.9,370.6L407.1,369.0L408.4,367.5L409.7,366.0L411.1,364.5L412.5,363.1L413.9,361.6L415.4,360.3L416.9,359.0L418.6,357.8L420.3,356.8L422.1,355.9L424.0,355.4L426.0,355.1L428.0,355.3L429.9,355.8L431.8,356.7L433.5,357.7L435.1,358.8L436.7,360.1L438.2,361.4L439.6,362.8L441.0,364.3L442.3,365.8L443.6,367.3L444.9,368.9L446.2,370.4L447.4,372.0L448.7,373.5L450.1,375.0L451.5,376.5L452.9,377.8L454.5,379.1L456.1,380.3L457.7,381.5L459.4,382.6L461.1,383.6L462.9,384.6L464.6,385.5L466.4,386.4L468.2,387.3L470.0,388.2L471.8,389.0L473.7,389.9L475.5,390.7L477.4,391.5L479.2,392.3L481.1,393.0L482.9,393.8L484.8,394.5L486.7,395.2L488.6,395.9L490.5,396.5L492.4,397.2L494.3,397.8L496.2,398.4L498.1,398.9L500.0,399.5L502.0,400.0L503.9,400.5L505.9,401.0L507.8,401.4L509.8,401.9L511.8,402.2L513.7,402.6L515.7,403.0L517.7,403.3L519.7,403.5L521.7,403.8L523.7,404.0L525.7,404.2L527.7,404.3L529.7,404.4L531.7,404.5L533.7,404.5L535.7,404.5L537.7,404.4L539.7,404.4L541.7,404.2L543.7,404.1L545.7,403.9L547.7,403.7L549.7,403.4L551.7,403.1L553.7,402.8L555.6,402.4L557.6,402.0L559.6,401.6L561.5,401.1L563.5,400.6L565.4,400.1L567.3,399.5L569.2,398.9L571.1,398.3L573.0,397.7L574.9,397.0L576.8,396.3L578.7,395.6L580.5,394.8L582.4,394.0L584.2,393.2L586.0,392.4L587.9,391.5L589.7,390.6L591.4,389.7L593.2,388.8L595.0,387.8L596.7,386.8L598.5,385.8L600.2,384.8L601.9,383.8L603.6,382.7L605.3,381.6L607.0,380.5L608.7,379.4L610.3,378.3L611.9,377.1L613.6,375.9L615.2,374.7L616.8,373.5L618.4,372.3L619.9,371.0L621.5,369.8L623.0,368.5L624.6,367.2L626.1,365.9L627.6,364.6L629.1,363.2L630.6,361.9L632.0,360.5L633.5,359.1L634.9,357.7L636.4,356.3L637.8,354.9L639.2,353.4L640.5,352.0L641.9,350.5L643.3,349.0L644.6,347.6L646.0,346.1L647.3,344.5L648.6,343.0L649.9,341.5L651.2,340.0L652.5,338.4L653.8,336.9L655.1,335.4L656.4,333.8L657.6,332.3L658.9,330.7L660.2,329.2L661.5,327.6L662.7,326.1L664.0,324.5L665.3,323.0L666.6,321.5L667.9,319.9L669.2,318.4L670.5,316.9L671.8,315.4L673.2,313.9L674.5,312.4L675.8,310.9L677.2,309.4L678.6,308.0L680.0,306.5L681.4,305.1L682.8,303.7L684.2,302.3L685.7,300.9L687.2,299.5L688.7,298.2L690.2,296.8L691.7,295.5L693.2,294.3L694.8,293.0L694.8,293.0L694.7,295.0L694.5,297.0L694.3,299.0L694.1,301.0L693.9,303.0L693.6,305.0L693.3,307.0L692.9,308.9L692.5,310.9L692.1,312.9L691.7,314.8L691.2,316.8L690.7,318.8L690.2,320.7L689.6,322.6L689.1,324.6L688.5,326.5L687.9,328.4L687.2,330.3L686.6,332.2L685.9,334.1L685.2,336.0L684.5,337.8L683.8,339.7L683.0,341.6L682.3,343.4L681.5,345.3L680.7,347.2L679.9,349.0L679.1,350.8L678.3,352.7L677.5,354.5L676.7,356.4L675.9,358.2L675.0,360.0L674.2,361.8L673.4,363.7L672.5,365.5L671.7,367.3L670.8,369.1L669.9,370.9L669.1,372.8L668.2,374.6L667.3,376.4L666.4,378.2L665.5,380.0L664.6,381.7L663.6,383.5L662.7,385.3L661.7,387.0L660.7,388.8L659.7,390.5L658.7,392.3L657.7,394.0L656.7,395.7L655.6,397.4L654.5,399.1L653.4,400.8L652.3,402.5L651.1,404.1L650.0,405.8L648.8,407.4L647.6,409.0L646.3,410.6L645.1,412.1L643.8,413.7L642.5,415.2L641.2,416.7L639.8,418.2L638.4,419.6L637.0,421.1L635.6,422.5L634.1,423.8L632.6,425.2L631.1,426.5L629.5,427.8L628.0,429.1L626.4,430.3L624.8,431.5L623.2,432.7L621.6,433.9L619.9,435.0L618.2,436.2L616.6,437.3L614.9,438.3L613.2,439.4L611.4,440.4L609.7,441.4L607.9,442.4L606.2,443.4L604.4,444.3L602.6,445.2L600.8,446.1L599.0,447.0L597.2,447.9L595.4,448.7L593.5,449.5L591.7,450.3L589.9,451.1L588.0,451.9L586.1,452.7L584.3,453.4L582.4,454.1L580.5,454.8L578.6,455.5L576.7,456.2L574.8,456.9L572.9,457.5L571.0,458.2L569.1,458.8L567.2,459.4L565.3,460.0L563.4,460.6L561.5,461.2L559.5,461.7L557.6,462.3L555.7,462.8L553.7,463.4L551.8,463.9L549.8,464.4L547.9,464.9L546.0,465.4L544.0,465.9L542.1,466.4L540.1,466.9L538.2,467.4L536.2,467.8L534.2,468.3L532.3,468.8L530.3,469.2L528.4,469.7L526.4,470.1L524.5,470.5L522.5,471.0L520.5,471.4L518.6,471.9L516.6,472.3L514.6,472.7L512.7,473.2L510.7,473.6L508.8,474.0L506.8,474.5L504.8,474.9L502.9,475.4L500.9,475.8L499.0,476.3L497.0,476.7L495.1,477.2L493.1,477.6L491.1,478.1L489.2,478.6L487.2,479.1L485.3,479.6L483.3,480.1L481.4,480.6L479.5,481.1L477.5,481.6L475.6,482.2L473.7,482.7L471.7,483.3L469.8,483.8L467.9,484.4L466.0,485.0L464.1,485.7L462.1,486.3L460.2,486.9L458.3,487.6L456.5,488.3L454.6,489.0L452.7,489.7L450.8,490.4L449.0,491.2L447.1,491.9L445.3,492.7L443.4,493.6L441.6,494.4L439.8,495.3L438.0,496.1L436.2,497.0L434.4,498.0L432.6,498.9L430.9,499.9L429.1,500.9L427.4,501.9L425.7,503.0L424.0,504.0L422.3,505.1L420.6,506.3L419.0,507.4L417.4,508.6L415.7,509.8L414.1,511.0L412.5,512.2L410.9,513.4L409.3,514.6L407.7,515.8L406.1,517.0L404.4,518.1L402.7,519.2L401.0,520.3L399.3,521.3L397.6,522.3L395.8,523.2L394.0,524.1L392.2,525.0L390.3,525.7L388.4,526.4L386.5,527.1L384.6,527.7L382.7,528.2L380.7,528.7L378.7,529.1L376.8,529.4L374.8,529.8L372.8,530.1L370.8,530.3L368.8,530.6L366.8,530.8L364.8,531.0L362.8,531.1L360.8,531.3L358.8,531.5L356.8,531.6L354.8,531.8L352.8,532.0L350.8,532.1L348.8,532.3L346.8,532.4L344.8,532.6L342.8,532.7L340.8,532.8L338.8,533.0L336.8,533.1L334.8,533.2L332.8,533.4L330.7,533.5L328.7,533.6L326.7,533.8L324.7,533.9L322.7,534.0L320.7,534.1L318.7,534.2L316.7,534.4L314.7,534.5L312.7,534.6L310.7,534.7L308.7,534.8L306.7,534.9L304.7,535.1L302.7,535.2L300.7,535.3L298.7,535.4L296.6,535.5L294.6,535.6L292.6,535.7L290.6,535.8L288.6,535.9L286.6,536.0L284.6,536.1L282.6,536.2L280.6,536.3L278.6,536.4L276.6,536.5L274.6,536.6L272.6,536.7L270.6,536.8L268.6,536.9L266.5,537.0L264.5,537.1L262.5,537.2L260.5,537.3L258.5,537.4L256.5,537.5L254.5,537.5L252.5,537.6L250.5,537.7L248.5,537.8L246.5,537.9L244.5,537.9L242.5,538.0L240.5,538.1L238.4,538.2L236.4,538.2L234.4,538.3L232.4,538.4L230.4,538.4L228.4,538.5L226.4,538.6L224.4,538.6L222.4,538.7L220.4,538.8L218.4,538.8L216.4,538.9L214.3,538.9L212.3,539.0L210.3,539.0L208.3,539.1L206.3,539.1L204.3,539.2L202.3,539.2L200.3,539.2L198.3,539.3L196.3,539.3L194.3,539.3L192.2,539.4L190.2,539.4L188.2,539.4L186.2,539.5L184.2,539.5L182.2,539.5L180.2,539.5L178.2,539.6L176.2,539.6L174.2,539.6L172.2,539.6L170.1,539.6L168.1,539.6L166.1,539.6L164.1,539.6L162.1,539.6L160.1,539.6L158.1,539.6L156.1,539.6L154.1,539.6L152.1,539.6L150.1,539.6L148.0,539.6L146.0,539.6L144.0,539.6L142.0,539.5L140.0,539.5L138.0,539.5Z" stroke="#00ffff"/>
<path d="M138.0,535.0L139.9,534.5L141.9,534.0L143.9,533.6L145.8,533.2L147.8,532.8L149.8,532.4L151.7,532.0L153.7,531.7L155.7,531.4L157.7,531.1L159.7,530.8L161.7,530.5L163.7,530.2L165.7,530.0L167.7,529.8L169.6,529.5L171.6,529.3L173.6,529.1L175.6,528.9L177.6,528.7L179.6,528.5L181.6,528.4L183.6,528.2L185.6,528.0L187.6,527.8L189.6,527.7L191.7,527.5L193.7,527.3L195.7,527.1L197.7,526.9L199.7,526.8L201.7,526.6L203.7,526.4L205.7,526.2L207.7,526.0L209.6,525.7L211.6,525.5L213.6,525.3L215.6,525.0L217.6,524.7L219.6,524.4L221.6,524.1L223.6,523.8L225.6,523.5L227.5,523.1L229.5,522.8L231.5,522.4L233.5,522.0L235.4,521.6L237.4,521.1L239.3,520.7L241.3,520.3L243.3,519.9L245.2,519.4L247.2,519.0L249.2,518.5L251.1,518.1L253.1,517.6L255.0,517.1L256.9,516.5L258.9,515.9L260.8,515.3L262.7,514.7L264.5,513.9L266.4,513.2L268.3,512.4L270.1,511.6L271.9,510.7L273.7,509.8L275.5,508.9L277.2,507.9L278.9,506.8L280.6,505.8L282.3,504.7L284.0,503.5L285.6,502.3L287.2,501.1L288.7,499.8L290.3,498.5L291.8,497.2L293.2,495.8L294.7,494.4L296.0,493.0L297.4,491.5L298.7,489.9L300.0,488.4L301.2,486.8L302.4,485.2L303.5,483.5L304.6,481.8L305.7,480.1L306.7,478.4L307.7,476.7L308.7,474.9L309.7,473.2L310.6,471.4L311.5,469.6L312.4,467.8L313.3,466.0L314.2,464.2L315.1,462.4L316.0,460.6L316.8,458.8L317.7,457.0L318.6,455.2L319.5,453.4L320.4,451.6L321.3,449.8L322.3,448.0L323.2,446.2L324.1,444.5L325.1,442.7L326.1,440.9L327.1,439.2L328.1,437.4L329.1,435.7L330.1,434.0L331.1,432.3L332.2,430.5L333.2,428.8L334.3,427.1L335.4,425.4L336.5,423.8L337.6,422.1L338.7,420.4L339.8,418.8L341.0,417.1L342.1,415.5L343.3,413.8L344.5,412.2L345.7,410.6L346.9,409.0L348.1,407.4L349.4,405.8L350.6,404.2L351.9,402.7L353.1,401.1L354.4,399.6L355.7,398.0L357.0,396.5L358.3,395.0L359.6,393.4L360.9,391.9L362.1,390.3L363.4,388.7L364.6,387.1L365.7,385.5L366.8,383.8L367.9,382.1L368.9,380.3L369.9,378.6L370.8,376.8L371.8,375.0L372.7,373.3L373.6,371.5L374.6,369.7L375.5,367.9L376.5,366.2L377.5,364.4L378.5,362.7L379.6,361.0L380.7,359.3L381.9,357.8L383.2,356.2L384.6,354.8L386.1,353.4L387.7,352.2L389.5,351.2L391.3,350.3L393.2,349.6L395.1,349.1L397.1,348.8L399.1,348.7L401.1,348.8L403.1,349.1L405.0,349.6L406.9,350.3L408.7,351.2L410.4,352.2L412.1,353.3L413.7,354.6L415.2,355.9L416.7,357.2L418.2,358.6L419.6,360.0L421.0,361.4L422.4,362.9L423.8,364.4L425.2,365.8L426.5,367.3L427.9,368.7L429.4,370.1L430.8,371.5L432.3,372.9L433.8,374.2L435.3,375.6L436.8,376.8L438.4,378.1L440.0,379.3L441.7,380.4L443.3,381.5L445.0,382.6L446.8,383.7L448.5,384.7L450.3,385.6L452.1,386.6L453.9,387.4L455.7,388.3L457.5,389.1L459.4,389.9L461.2,390.6L463.1,391.4L465.0,392.0L466.9,392.7L468.8,393.3L470.7,393.9L472.6,394.5L474.6,395.1L476.5,395.6L478.5,396.1L480.4,396.5L482.4,397.0L484.3,397.4L486.3,397.7L488.3,398.1L490.3,398.4L492.3,398.7L494.3,398.9L496.3,399.1L498.3,399.3L500.3,399.4L502.3,399.5L504.3,399.6L506.3,399.6L508.3,399.6L510.3,399.5L512.3,399.4L514.3,399.3L516.3,399.1L518.3,398.9L520.3,398.7L522.3,398.4L524.3,398.1L526.3,397.8L528.3,397.4L530.2,397.0L532.2,396.6L534.1,396.1L536.1,395.6L538.0,395.1L540.0,394.6L541.9,394.0L543.8,393.4L545.7,392.8L547.6,392.2L549.5,391.5L551.4,390.8L553.3,390.1L555.2,389.3L557.0,388.6L558.9,387.8L560.7,387.0L562.5,386.1L564.3,385.3L566.2,384.4L567.9,383.5L569.7,382.6L571.5,381.7L573.3,380.7L575.0,379.7L576.8,378.7L578.5,377.7L580.2,376.7L581.9,375.6L583.6,374.5L585.3,373.5L587.0,372.3L588.7,371.2L590.3,370.1L592.0,368.9L593.6,367.7L595.2,366.5L596.8,365.3L598.4,364.1L600.0,362.9L601.6,361.6L603.1,360.3L604.7,359.1L606.2,357.8L607.7,356.4L609.2,355.1L610.7,353.8L612.2,352.4L613.7,351.1L615.1,349.7L616.6,348.3L618.0,346.9L619.5,345.5L620.9,344.1L622.3,342.6L623.7,341.2L625.1,339.7L626.5,338.3L627.8,336.8L629.2,335.3L630.5,333.8L631.9,332.4L633.2,330.9L634.6,329.4L635.9,327.8L637.2,326.3L638.5,324.8L639.8,323.3L641.1,321.7L642.4,320.2L643.7,318.7L645.0,317.1L646.3,315.6L647.6,314.0L648.8,312.5L650.1,310.9L651.4,309.4L652.7,307.8L653.9,306.3L655.2,304.7L656.5,303.2L657.7,301.6L659.0,300.0L660.3,298.5L661.6,296.9L662.8,295.4L664.1,293.8L665.4,292.3L666.7,290.7L668.0,289.2L669.2,287.7L670.5,286.1L671.8,284.6L673.1,283.1L674.5,281.5L675.8,280.0L677.1,278.5L678.4,277.0L679.8,275.5L681.1,274.0L682.4,272.5L683.8,271.0L685.2,269.6L686.5,268.1L687.9,266.6L689.3,265.2L690.7,263.7L692.1,262.3L693.6,260.9L695.0,259.5L695.0,259.5L694.9,261.5L694.8,263.5L694.6,265.5L694.5,267.5L694.3,269.5L694.1,271.5L693.9,273.5L693.7,275.5L693.4,277.5L693.2,279.5L692.9,281.5L692.6,283.5L692.3,285.5L692.0,287.4L691.6,289.4L691.3,291.4L690.9,293.4L690.5,295.3L690.1,297.3L689.6,299.3L689.2,301.2L688.7,303.2L688.2,305.1L687.7,307.1L687.2,309.0L686.7,310.9L686.1,312.9L685.6,314.8L685.0,316.7L684.4,318.6L683.8,320.5L683.1,322.4L682.5,324.3L681.8,326.2L681.1,328.1L680.4,330.0L679.7,331.9L679.0,333.8L678.2,335.6L677.5,337.5L676.7,339.3L675.9,341.2L675.1,343.0L674.2,344.8L673.4,346.7L672.5,348.5L671.7,350.3L670.8,352.1L669.9,353.9L669.0,355.7L668.1,357.5L667.1,359.3L666.2,361.0L665.3,362.8L664.3,364.6L663.4,366.3L662.4,368.1L661.5,369.9L660.5,371.6L659.5,373.4L658.5,375.1L657.6,376.9L656.6,378.7L655.6,380.4L654.7,382.2L653.7,383.9L652.7,385.7L651.7,387.4L650.7,389.2L649.7,390.9L648.7,392.7L647.7,394.4L646.7,396.1L645.7,397.8L644.6,399.6L643.5,401.3L642.5,403.0L641.4,404.6L640.2,406.3L639.1,408.0L637.9,409.6L636.8,411.2L635.5,412.8L634.3,414.4L633.1,416.0L631.8,417.5L630.4,419.0L629.1,420.5L627.7,422.0L626.3,423.4L624.9,424.8L623.4,426.2L621.9,427.5L620.4,428.9L618.9,430.1L617.3,431.4L615.7,432.6L614.1,433.8L612.5,435.0L610.8,436.2L609.2,437.3L607.5,438.4L605.8,439.5L604.1,440.5L602.3,441.5L600.6,442.5L598.8,443.5L597.1,444.4L595.3,445.4L593.5,446.3L591.7,447.2L589.9,448.0L588.1,448.9L586.2,449.7L584.4,450.5L582.6,451.3L580.7,452.1L578.8,452.8L577.0,453.6L575.1,454.3L573.2,455.0L571.3,455.7L569.4,456.4L567.6,457.0L565.7,457.7L563.8,458.4L561.8,459.0L559.9,459.6L558.0,460.2L556.1,460.8L554.2,461.4L552.3,462.0L550.3,462.6L548.4,463.1L546.5,463.7L544.5,464.2L542.6,464.8L540.7,465.3L538.7,465.8L536.8,466.3L534.8,466.8L532.9,467.3L531.0,467.8L529.0,468.3L527.0,468.7L525.1,469.2L523.1,469.6L521.2,470.1L519.2,470.5L517.3,470.9L515.3,471.4L513.3,471.8L511.4,472.2L509.4,472.6L507.4,473.0L505.5,473.4L503.5,473.8L501.5,474.1L499.5,474.5L497.6,474.9L495.6,475.2L493.6,475.6L491.6,476.0L489.7,476.3L487.7,476.7L485.7,477.0L483.7,477.4L481.7,477.7L479.8,478.1L477.8,478.5L475.8,478.8L473.8,479.2L471.9,479.6L469.9,480.0L467.9,480.4L466.0,480.8L464.0,481.2L462.0,481.6L460.1,482.0L458.1,482.5L456.2,482.9L454.2,483.4L452.3,483.9L450.3,484.4L448.4,484.9L446.4,485.4L444.5,486.0L442.6,486.6L440.7,487.2L438.8,487.8L436.9,488.4L435.0,489.1L433.1,489.7L431.2,490.5L429.3,491.2L427.5,491.9L425.6,492.7L423.8,493.6L422.0,494.4L420.2,495.3L418.4,496.2L416.6,497.2L414.9,498.2L413.2,499.2L411.5,500.3L409.8,501.4L408.1,502.6L406.5,503.7L404.9,504.9L403.2,506.1L401.6,507.2L400.0,508.4L398.3,509.6L396.7,510.7L395.0,511.8L393.3,512.9L391.6,514.0L389.9,515.0L388.1,515.9L386.3,516.9L384.5,517.7L382.7,518.6L380.9,519.4L379.0,520.2L377.2,520.9L375.3,521.7L373.4,522.4L371.5,523.0L369.6,523.7L367.7,524.3L365.8,524.9L363.8,525.4L361.9,526.0L360.0,526.5L358.0,527.0L356.1,527.5L354.1,528.0L352.2,528.5L350.2,528.9L348.3,529.4L346.3,529.8L344.3,530.2L342.4,530.6L340.4,531.0L338.4,531.3L336.4,531.7L334.5,532.0L332.5,532.3L330.5,532.7L328.5,533.0L326.5,533.3L324.5,533.5L322.6,533.8L320.6,534.1L318.6,534.3L316.6,534.6L314.6,534.8L312.6,535.0L310.6,535.3L308.6,535.5L306.6,535.7L304.6,535.9L302.6,536.1L300.6,536.2L298.6,536.4L296.6,536.6L294.6,536.7L292.6,536.9L290.6,537.0L288.6,537.2L286.6,537.3L284.6,537.4L282.6,537.5L280.6,537.6L278.6,537.7L276.5,537.8L274.5,537.9L272.5,538.0L270.5,538.1L268.5,538.2L266.5,538.2L264.5,538.3L262.5,538.4L260.5,538.4L258.5,538.5L256.5,538.5L254.5,538.6L252.5,538.6L250.5,538.6L248.4,538.7L246.4,538.7L244.4,538.7L242.4,538.7L240.4,538.8L238.4,538.8L236.4,538.8L234.4,538.8L232.4,538.8L230.4,538.8L228.4,538.8L226.4,538.8L224.3,538.8L222.3,538.8L220.3,538.8L218.3,538.8L216.3,538.8L214.3,538.8L212.3,538.8L210.3,538.8L208.3,538.8L206.3,538.8L204.3,538.8L202.3,538.8L200.2,538.8L198.2,538.8L196.2,538.8L194.2,538.8L192.2,538.8L190.2,538.8L188.2,538.7L186.2,538.7L184.2,538.7L182.2,538.7L180.2,538.8L178.2,538.8L176.1,538.8L174.1,538.8L172.1,538.8L170.1,538.8L168.1,538.8L166.1,538.8L164.1,538.9L162.1,538.9L160.1,538.9L158.1,538.9L156.1,539.0L154.1,539.0L152.1,539.1L150.0,539.1L148.0,539.2L146.0,539.2L144.0,539.3L142.0,539.4L140.0,539.4L138.0,539.5Z" stroke="#ff40ff"/>
<path d="M138.0,533.5L140.0,533.1L141.9,532.6L143.9,532.2L145.9,531.9L147.9,531.6L149.8,531.2L151.8,531.0L153.8,530.7L155.8,530.4L157.8,530.2L159.8,530.0L161.8,529.8L163.8,529.6L165.8,529.4L167.8,529.2L169.8,529.0L171.8,528.9L173.8,528.7L175.8,528.5L177.8,528.4L179.8,528.2L181.8,528.0L183.9,527.8L185.9,527.7L187.9,527.5L189.9,527.3L191.9,527.0L193.9,526.8L195.8,526.6L197.8,526.3L199.8,526.0L201.8,525.7L203.8,525.4L205.8,525.1L207.8,524.7L209.7,524.3L211.7,523.9L213.7,523.4L215.6,522.9L217.5,522.4L219.5,521.8L221.4,521.2L223.3,520.6L225.2,519.9L227.1,519.2L228.9,518.5L230.8,517.7L232.6,516.8L234.4,516.0L236.2,515.0L238.0,514.1L239.7,513.1L241.5,512.1L243.2,511.0L244.8,509.9L246.5,508.7L248.1,507.6L249.7,506.3L251.3,505.1L252.8,503.8L254.3,502.4L255.8,501.1L257.2,499.6L258.6,498.2L260.0,496.7L261.3,495.2L262.6,493.7L263.9,492.2L265.2,490.6L266.4,489.0L267.6,487.4L268.8,485.7L269.9,484.1L271.1,482.4L272.2,480.8L273.2,479.1L274.3,477.4L275.4,475.6L276.4,473.9L277.4,472.2L278.4,470.4L279.4,468.7L280.4,466.9L281.4,465.2L282.3,463.4L283.3,461.7L284.2,459.9L285.2,458.1L286.1,456.3L287.1,454.6L288.0,452.8L289.0,451.0L289.9,449.2L290.8,447.5L291.8,445.7L292.7,443.9L293.7,442.1L294.6,440.4L295.6,438.6L296.6,436.8L297.5,435.1L298.5,433.3L299.5,431.6L300.5,429.8L301.4,428.0L302.4,426.3L303.4,424.6L304.4,422.8L305.5,421.1L306.5,419.3L307.5,417.6L308.5,415.9L309.6,414.2L310.6,412.4L311.7,410.7L312.7,409.0L313.8,407.3L314.9,405.6L316.0,403.9L317.1,402.3L318.2,400.6L319.3,398.9L320.4,397.2L321.6,395.6L322.7,393.9L323.9,392.3L325.0,390.6L326.2,389.0L327.3,387.4L328.5,385.7L329.7,384.1L330.9,382.5L332.1,380.9L333.3,379.2L334.5,377.6L335.7,376.0L336.9,374.4L338.1,372.8L339.4,371.2L340.6,369.6L341.8,368.1L343.1,366.5L344.3,364.9L345.5,363.3L346.8,361.7L348.0,360.2L349.3,358.6L350.5,357.0L351.8,355.4L353.0,353.9L354.3,352.3L355.7,350.8L357.1,349.4L358.5,348.0L360.1,346.8L361.8,345.7L363.7,344.9L365.6,344.4L367.6,344.1L369.6,344.1L371.6,344.3L373.6,344.6L375.5,345.1L377.4,345.8L379.3,346.5L381.1,347.4L382.9,348.3L384.6,349.3L386.3,350.4L388.0,351.6L389.6,352.8L391.1,354.0L392.7,355.3L394.2,356.6L395.7,358.0L397.2,359.4L398.7,360.7L400.1,362.1L401.6,363.5L403.1,364.8L404.5,366.2L406.0,367.5L407.6,368.9L409.1,370.1L410.7,371.4L412.3,372.6L413.9,373.7L415.6,374.9L417.3,375.9L419.0,377.0L420.8,378.0L422.6,378.9L424.4,379.8L426.2,380.7L428.0,381.5L429.8,382.3L431.7,383.1L433.6,383.8L435.5,384.5L437.4,385.2L439.3,385.8L441.2,386.4L443.1,387.0L445.0,387.6L447.0,388.1L448.9,388.6L450.9,389.1L452.8,389.6L454.8,390.0L456.8,390.4L458.7,390.8L460.7,391.1L462.7,391.5L464.7,391.8L466.7,392.0L468.7,392.3L470.7,392.5L472.7,392.7L474.7,392.8L476.7,393.0L478.7,393.1L480.7,393.1L482.7,393.2L484.7,393.2L486.7,393.1L488.7,393.1L490.8,393.0L492.8,392.9L494.8,392.7L496.8,392.5L498.8,392.2L500.7,392.0L502.7,391.6L504.7,391.3L506.7,390.9L508.6,390.5L510.6,390.0L512.5,389.5L514.5,388.9L516.4,388.4L518.3,387.7L520.2,387.1L522.1,386.4L524.0,385.7L525.9,385.0L527.7,384.2L529.6,383.4L531.4,382.6L533.2,381.7L535.0,380.8L536.8,379.9L538.6,379.0L540.4,378.0L542.1,377.0L543.9,376.0L545.6,375.0L547.3,373.9L549.0,372.9L550.7,371.8L552.4,370.7L554.0,369.5L555.7,368.4L557.3,367.2L559.0,366.1L560.6,364.9L562.2,363.7L563.8,362.4L565.4,361.2L566.9,360.0L568.5,358.7L570.1,357.4L571.6,356.2L573.2,354.9L574.7,353.6L576.2,352.3L577.7,350.9L579.3,349.6L580.8,348.3L582.2,346.9L583.7,345.6L585.2,344.2L586.7,342.9L588.2,341.5L589.6,340.1L591.1,338.7L592.5,337.3L594.0,335.9L595.4,334.5L596.9,333.2L598.3,331.7L599.8,330.3L601.2,328.9L602.6,327.5L604.1,326.1L605.5,324.7L606.9,323.3L608.4,321.9L609.8,320.4L611.2,319.0L612.6,317.6L614.1,316.2L615.5,314.8L616.9,313.4L618.3,312.0L619.8,310.5L621.2,309.1L622.7,307.7L624.1,306.3L625.5,304.9L627.0,303.5L628.4,302.1L629.9,300.7L631.3,299.3L632.8,297.9L634.2,296.5L635.7,295.1L637.1,293.7L638.5,292.3L640.0,291.0L641.4,289.5L642.9,288.1L644.3,286.7L645.7,285.3L647.2,283.9L648.6,282.5L650.0,281.1L651.5,279.7L652.9,278.2L654.3,276.8L655.7,275.4L657.1,273.9L658.5,272.5L659.9,271.1L661.3,269.6L662.7,268.2L664.1,266.7L665.5,265.3L666.9,263.9L668.3,262.4L669.7,261.0L671.2,259.6L672.6,258.2L674.0,256.7L675.5,255.3L676.9,253.9L678.3,252.5L679.8,251.2L681.3,249.8L682.7,248.4L684.2,247.1L685.7,245.7L687.2,244.4L688.8,243.1L690.3,241.8L691.9,240.5L693.4,239.2L695.0,238.0L695.0,238.0L694.7,240.0L694.4,242.0L694.0,244.0L693.7,245.9L693.4,247.9L693.1,249.9L692.8,251.9L692.4,253.9L692.1,255.9L691.8,257.8L691.4,259.8L691.1,261.8L690.8,263.8L690.4,265.8L690.1,267.7L689.7,269.7L689.4,271.7L689.0,273.7L688.6,275.6L688.3,277.6L687.9,279.6L687.5,281.6L687.1,283.5L686.7,285.5L686.3,287.5L685.9,289.4L685.4,291.4L685.0,293.4L684.5,295.3L684.1,297.3L683.6,299.2L683.1,301.2L682.7,303.1L682.2,305.1L681.6,307.0L681.1,309.0L680.6,310.9L680.0,312.8L679.5,314.8L678.9,316.7L678.3,318.6L677.7,320.5L677.1,322.4L676.5,324.3L675.8,326.2L675.2,328.1L674.5,330.0L673.8,331.9L673.1,333.8L672.3,335.7L671.6,337.5L670.8,339.4L670.1,341.2L669.3,343.1L668.4,344.9L667.6,346.8L666.8,348.6L665.9,350.4L665.0,352.2L664.1,354.0L663.2,355.8L662.3,357.6L661.4,359.4L660.5,361.1L659.5,362.9L658.5,364.7L657.6,366.4L656.6,368.2L655.6,370.0L654.6,371.7L653.6,373.4L652.6,375.2L651.6,376.9L650.6,378.6L649.5,380.4L648.5,382.1L647.5,383.8L646.4,385.5L645.4,387.2L644.3,389.0L643.3,390.7L642.2,392.4L641.1,394.0L640.0,395.7L638.9,397.4L637.8,399.1L636.6,400.7L635.5,402.4L634.3,404.0L633.1,405.6L631.9,407.3L630.7,408.9L629.5,410.4L628.2,412.0L627.0,413.6L625.7,415.1L624.4,416.6L623.0,418.1L621.7,419.6L620.3,421.1L618.9,422.5L617.5,423.9L616.0,425.3L614.5,426.7L613.1,428.0L611.5,429.4L610.0,430.7L608.5,431.9L606.9,433.2L605.3,434.4L603.7,435.6L602.1,436.8L600.4,438.0L598.8,439.1L597.1,440.2L595.4,441.3L593.7,442.4L592.0,443.4L590.3,444.5L588.5,445.5L586.8,446.4L585.0,447.4L583.2,448.3L581.4,449.2L579.6,450.1L577.8,451.0L576.0,451.9L574.2,452.7L572.4,453.5L570.5,454.3L568.7,455.1L566.8,455.9L564.9,456.6L563.1,457.4L561.2,458.1L559.3,458.8L557.4,459.5L555.5,460.1L553.6,460.8L551.7,461.4L549.8,462.0L547.9,462.6L546.0,463.2L544.0,463.8L542.1,464.4L540.2,464.9L538.2,465.5L536.3,466.0L534.4,466.5L532.4,467.0L530.5,467.5L528.5,468.0L526.6,468.5L524.6,469.0L522.7,469.4L520.7,469.9L518.7,470.3L516.8,470.7L514.8,471.2L512.8,471.6L510.9,472.0L508.9,472.4L506.9,472.8L505.0,473.2L503.0,473.5L501.0,473.9L499.0,474.3L497.1,474.7L495.1,475.0L493.1,475.4L491.1,475.7L489.2,476.1L487.2,476.4L485.2,476.8L483.2,477.1L481.2,477.4L479.3,477.8L477.3,478.1L475.3,478.4L473.3,478.7L471.3,479.1L469.3,479.4L467.4,479.7L465.4,480.1L463.4,480.4L461.4,480.8L459.4,481.1L457.5,481.5L455.5,481.8L453.5,482.2L451.5,482.6L449.6,483.0L447.6,483.3L445.6,483.8L443.7,484.2L441.7,484.6L439.7,485.0L437.8,485.5L435.8,486.0L433.9,486.4L431.9,486.9L430.0,487.5L428.0,488.0L426.1,488.5L424.2,489.1L422.3,489.7L420.4,490.3L418.4,490.9L416.5,491.6L414.6,492.3L412.8,493.0L410.9,493.7L409.0,494.4L407.2,495.2L405.3,496.0L403.5,496.8L401.7,497.6L399.8,498.5L398.0,499.4L396.2,500.3L394.5,501.2L392.7,502.1L390.9,503.1L389.1,504.0L387.4,505.0L385.6,506.0L383.8,506.9L382.1,507.9L380.3,508.9L378.6,509.9L376.8,510.8L375.0,511.8L373.3,512.7L371.5,513.7L369.7,514.6L367.9,515.5L366.2,516.4L364.3,517.3L362.5,518.2L360.7,519.1L358.9,519.9L357.0,520.7L355.2,521.4L353.3,522.2L351.4,522.9L349.6,523.6L347.7,524.3L345.8,524.9L343.9,525.6L341.9,526.2L340.0,526.7L338.1,527.3L336.1,527.8L334.2,528.3L332.3,528.8L330.3,529.3L328.3,529.8L326.4,530.2L324.4,530.6L322.4,531.0L320.5,531.4L318.5,531.8L316.5,532.1L314.5,532.5L312.6,532.8L310.6,533.1L308.6,533.4L306.6,533.7L304.6,533.9L302.6,534.2L300.6,534.4L298.6,534.7L296.6,534.9L294.6,535.1L292.6,535.3L290.6,535.5L288.6,535.7L286.6,535.8L284.6,536.0L282.6,536.2L280.6,536.3L278.6,536.5L276.6,536.6L274.6,536.8L272.6,536.9L270.6,537.0L268.6,537.1L266.6,537.2L264.6,537.4L262.6,537.5L260.6,537.6L258.5,537.7L256.5,537.7L254.5,537.8L252.5,537.9L250.5,538.0L248.5,538.1L246.5,538.1L244.5,538.2L242.5,538.3L240.5,538.3L238.5,538.4L236.5,538.4L234.4,538.5L232.4,538.5L230.4,538.6L228.4,538.6L226.4,538.6L224.4,538.7L222.4,538.7L220.4,538.7L218.4,538.7L216.4,538.8L214.4,538.8L212.3,538.8L210.3,538.8L208.3,538.8L206.3,538.8L204.3,538.8L202.3,538.9L200.3,538.9L198.3,538.9L196.3,538.9L194.3,538.9L192.3,538.9L190.2,538.9L188.2,538.9L186.2,538.9L184.2,538.9L182.2,538.9L180.2,538.9L178.2,538.9L176.2,538.9L174.2,538.9L172.2,538.9L170.2,538.9L168.1,538.9L166.1,538.9L164.1,538.9L162.1,538.9L160.1,538.9L158.1,538.9L156.1,538.9L154.1,538.9L152.1,538.9L150.1,538.9L148.0,538.9L146.0,538.9L144.0,538.9L142.0,539.0L140.0,539.0L138.0,539.0Z" stroke="#ffff00"/>
<path d="M138.0,532.0L140.0,531.8L142.0,531.6L144.0,531.4L146.0,531.1L148.0,530.8L149.9,530.5L151.9,530.2L153.9,529.8L155.9,529.4L157.8,529.0L159.8,528.6L161.7,528.1L163.7,527.6L165.6,527.1L167.6,526.6L169.5,526.0L171.4,525.4L173.3,524.8L175.2,524.2L177.1,523.5L179.0,522.9L180.9,522.1L182.7,521.4L184.6,520.6L186.4,519.8L188.3,519.0L190.1,518.2L191.9,517.3L193.7,516.4L195.4,515.5L197.2,514.5L199.0,513.5L200.7,512.5L202.4,511.5L204.1,510.4L205.8,509.3L207.4,508.1L209.1,507.0L210.7,505.8L212.3,504.6L213.8,503.3L215.4,502.0L216.9,500.7L218.4,499.3L219.8,498.0L221.2,496.6L222.6,495.1L224.0,493.7L225.3,492.2L226.6,490.6L227.9,489.1L229.1,487.5L230.4,485.9L231.5,484.3L232.7,482.6L233.8,481.0L234.9,479.3L236.0,477.6L237.0,475.9L238.0,474.2L239.0,472.4L240.0,470.7L241.0,468.9L241.9,467.1L242.8,465.3L243.7,463.5L244.6,461.7L245.4,459.9L246.2,458.1L247.1,456.3L247.9,454.4L248.7,452.6L249.4,450.7L250.2,448.9L250.9,447.0L251.7,445.1L252.4,443.3L253.1,441.4L253.8,439.5L254.5,437.6L255.2,435.8L255.9,433.9L256.6,432.0L257.3,430.1L258.0,428.2L258.6,426.3L259.3,424.4L260.0,422.5L260.7,420.7L261.3,418.8L262.0,416.9L262.7,415.0L263.3,413.1L264.0,411.2L264.7,409.3L265.4,407.4L266.1,405.5L266.8,403.7L267.5,401.8L268.2,399.9L268.9,398.0L269.6,396.2L270.3,394.3L271.0,392.4L271.8,390.6L272.5,388.7L273.3,386.8L274.1,385.0L274.9,383.1L275.6,381.3L276.4,379.5L277.3,377.6L278.1,375.8L278.9,374.0L279.8,372.2L280.7,370.4L281.5,368.6L282.4,366.8L283.4,365.0L284.3,363.2L285.2,361.4L286.2,359.7L287.1,357.9L288.1,356.2L289.1,354.4L290.1,352.7L291.2,351.0L292.2,349.2L293.3,347.5L294.4,345.9L295.5,344.2L296.6,342.5L297.7,340.9L298.9,339.3L300.2,337.7L301.4,336.1L302.8,334.6L304.1,333.2L305.6,331.8L307.0,330.4L308.6,329.2L310.2,328.0L312.0,326.9L313.7,326.0L315.6,325.3L317.5,324.7L319.5,324.3L321.5,324.1L323.5,324.1L325.5,324.2L327.5,324.5L329.4,325.0L331.3,325.6L333.2,326.3L335.0,327.2L336.8,328.1L338.5,329.1L340.3,330.1L342.0,331.2L343.6,332.3L345.3,333.5L346.9,334.6L348.6,335.8L350.2,336.9L351.9,338.0L353.5,339.2L355.2,340.3L356.9,341.4L358.6,342.4L360.3,343.5L362.0,344.6L363.7,345.6L365.4,346.6L367.2,347.6L368.9,348.6L370.7,349.5L372.5,350.5L374.2,351.4L376.0,352.3L377.8,353.2L379.6,354.1L381.5,354.9L383.3,355.7L385.1,356.5L387.0,357.3L388.8,358.1L390.7,358.9L392.5,359.6L394.4,360.3L396.3,361.0L398.2,361.6L400.1,362.3L402.0,362.9L403.9,363.5L405.9,364.0L407.8,364.5L409.7,365.0L411.7,365.5L413.7,365.9L415.6,366.3L417.6,366.7L419.6,367.0L421.6,367.3L423.5,367.6L425.5,367.8L427.5,368.0L429.5,368.1L431.5,368.2L433.5,368.3L435.5,368.4L437.6,368.4L439.6,368.4L441.6,368.3L443.6,368.2L445.6,368.1L447.6,368.0L449.6,367.8L451.6,367.6L453.6,367.3L455.5,367.0L457.5,366.7L459.5,366.4L461.5,366.0L463.4,365.6L465.4,365.2L467.3,364.7L469.3,364.2L471.2,363.7L473.2,363.2L475.1,362.6L477.0,362.0L478.9,361.3L480.8,360.6L482.7,360.0L484.5,359.2L486.4,358.5L488.2,357.7L490.1,356.9L491.9,356.0L493.7,355.2L495.5,354.3L497.3,353.4L499.1,352.4L500.8,351.5L502.6,350.5L504.3,349.4L506.0,348.4L507.7,347.4L509.4,346.3L511.1,345.2L512.7,344.1L514.4,342.9L516.1,341.8L517.7,340.6L519.3,339.5L520.9,338.3L522.5,337.1L524.1,335.8L525.7,334.6L527.3,333.4L528.9,332.1L530.4,330.9L532.0,329.6L533.5,328.3L535.1,327.0L536.6,325.7L538.1,324.4L539.6,323.1L541.2,321.8L542.7,320.5L544.2,319.2L545.7,317.9L547.2,316.5L548.7,315.2L550.2,313.9L551.7,312.5L553.2,311.2L554.7,309.9L556.2,308.5L557.7,307.2L559.2,305.9L560.7,304.5L562.2,303.2L563.7,301.9L565.2,300.5L566.7,299.2L568.2,297.9L569.7,296.6L571.3,295.3L572.8,294.0L574.3,292.7L575.8,291.4L577.4,290.1L578.9,288.8L580.4,287.5L582.0,286.2L583.5,284.9L585.1,283.7L586.6,282.4L588.2,281.1L589.7,279.8L591.2,278.6L592.8,277.3L594.3,276.0L595.9,274.7L597.4,273.4L599.0,272.2L600.5,270.9L602.1,269.6L603.6,268.3L605.2,267.0L606.7,265.8L608.2,264.5L609.8,263.2L611.3,261.9L612.8,260.6L614.4,259.3L615.9,258.0L617.4,256.7L618.9,255.4L620.4,254.0L621.9,252.7L623.4,251.4L624.9,250.1L626.4,248.7L627.9,247.4L629.4,246.0L630.9,244.7L632.4,243.3L633.8,241.9L635.3,240.6L636.8,239.2L638.2,237.8L639.6,236.4L641.1,235.0L642.5,233.6L643.9,232.2L645.4,230.8L646.8,229.4L648.2,227.9L649.6,226.5L651.0,225.0L652.3,223.6L653.7,222.1L655.1,220.7L656.4,219.2L657.8,217.7L659.1,216.2L660.5,214.7L661.8,213.2L663.1,211.7L664.4,210.2L665.7,208.7L667.0,207.1L668.3,205.6L669.6,204.0L670.9,202.5L672.1,200.9L673.4,199.3L674.6,197.8L675.8,196.2L677.0,194.6L678.3,193.0L679.5,191.4L680.6,189.8L681.8,188.1L683.0,186.5L684.1,184.9L685.3,183.2L686.4,181.5L687.5,179.9L688.6,178.2L689.7,176.5L690.8,174.8L691.9,173.1L692.9,171.4L694.0,169.7L695.0,168.0L695.0,168.0L694.8,170.0L694.6,172.0L694.3,174.0L694.1,176.0L693.9,178.0L693.6,180.0L693.3,182.0L693.1,183.9L692.8,185.9L692.5,187.9L692.2,189.9L691.9,191.9L691.6,193.9L691.3,195.9L691.0,197.8L690.6,199.8L690.3,201.8L689.9,203.8L689.6,205.7L689.2,207.7L688.8,209.7L688.5,211.7L688.1,213.6L687.7,215.6L687.3,217.6L686.9,219.5L686.4,221.5L686.0,223.5L685.6,225.4L685.1,227.4L684.7,229.3L684.2,231.3L683.8,233.2L683.3,235.2L682.8,237.1L682.3,239.1L681.8,241.0L681.3,243.0L680.8,244.9L680.3,246.9L679.8,248.8L679.2,250.7L678.7,252.7L678.2,254.6L677.6,256.5L677.0,258.4L676.5,260.4L675.9,262.3L675.3,264.2L674.7,266.1L674.1,268.1L673.5,270.0L672.9,271.9L672.3,273.8L671.7,275.7L671.1,277.6L670.4,279.5L669.8,281.4L669.1,283.3L668.5,285.2L667.8,287.1L667.1,289.0L666.5,290.9L665.8,292.8L665.1,294.7L664.4,296.5L663.7,298.4L663.0,300.3L662.2,302.2L661.5,304.0L660.8,305.9L660.1,307.8L659.3,309.6L658.6,311.5L657.8,313.4L657.1,315.2L656.3,317.1L655.5,318.9L654.7,320.8L653.9,322.6L653.1,324.5L652.3,326.3L651.5,328.1L650.7,330.0L649.9,331.8L649.0,333.6L648.2,335.5L647.3,337.3L646.5,339.1L645.6,340.9L644.7,342.7L643.9,344.5L643.0,346.3L642.0,348.1L641.1,349.9L640.2,351.7L639.3,353.4L638.3,355.2L637.4,357.0L636.4,358.7L635.4,360.5L634.4,362.2L633.4,364.0L632.4,365.7L631.4,367.4L630.4,369.2L629.3,370.9L628.3,372.6L627.2,374.3L626.1,376.0L625.1,377.7L624.0,379.3L622.8,381.0L621.7,382.7L620.6,384.3L619.4,386.0L618.3,387.6L617.1,389.2L615.9,390.9L614.7,392.5L613.5,394.1L612.3,395.7L611.0,397.2L609.8,398.8L608.5,400.4L607.2,401.9L605.9,403.5L604.6,405.0L603.3,406.5L602.0,408.0L600.7,409.5L599.3,411.0L597.9,412.4L596.6,413.9L595.2,415.3L593.8,416.8L592.3,418.2L590.9,419.6L589.5,421.0L588.0,422.4L586.5,423.8L585.1,425.1L583.6,426.4L582.1,427.8L580.5,429.1L579.0,430.4L577.5,431.7L575.9,432.9L574.3,434.2L572.8,435.4L571.2,436.7L569.6,437.9L568.0,439.1L566.3,440.2L564.7,441.4L563.0,442.5L561.4,443.7L559.7,444.8L558.0,445.9L556.3,446.9L554.6,448.0L552.9,449.0L551.2,450.1L549.4,451.1L547.7,452.0L545.9,453.0L544.2,454.0L542.4,454.9L540.6,455.8L538.8,456.7L537.0,457.5L535.2,458.4L533.3,459.2L531.5,460.0L529.6,460.8L527.8,461.6L525.9,462.4L524.1,463.1L522.2,463.9L520.3,464.6L518.4,465.3L516.6,466.0L514.7,466.6L512.8,467.3L510.9,467.9L509.0,468.5L507.0,469.1L505.1,469.7L503.2,470.3L501.3,470.9L499.3,471.4L497.4,472.0L495.5,472.5L493.5,473.0L491.6,473.5L489.6,474.0L487.7,474.5L485.7,474.9L483.8,475.4L481.8,475.8L479.9,476.3L477.9,476.7L475.9,477.1L474.0,477.5L472.0,477.9L470.0,478.3L468.1,478.7L466.1,479.0L464.1,479.4L462.1,479.7L460.2,480.1L458.2,480.4L456.2,480.7L454.2,481.1L452.2,481.4L450.3,481.7L448.3,482.0L446.3,482.3L444.3,482.6L442.3,482.9L440.3,483.2L438.4,483.5L436.4,483.9L434.4,484.2L432.4,484.5L430.4,484.8L428.4,485.1L426.5,485.5L424.5,485.8L422.5,486.2L420.5,486.5L418.6,486.9L416.6,487.3L414.6,487.7L412.7,488.1L410.7,488.5L408.7,489.0L406.8,489.4L404.8,489.9L402.9,490.4L401.0,490.9L399.0,491.4L397.1,492.0L395.2,492.6L393.2,493.2L391.3,493.8L389.4,494.4L387.5,495.1L385.7,495.8L383.8,496.5L381.9,497.2L380.0,498.0L378.2,498.7L376.3,499.5L374.5,500.2L372.6,501.0L370.8,501.8L368.9,502.6L367.1,503.4L365.3,504.3L363.4,505.1L361.6,505.9L359.8,506.7L358.0,507.6L356.1,508.4L354.3,509.2L352.5,510.1L350.6,510.9L348.8,511.7L347.0,512.5L345.1,513.3L343.3,514.1L341.4,514.9L339.6,515.7L337.7,516.5L335.9,517.2L334.0,518.0L332.1,518.7L330.3,519.4L328.4,520.1L326.5,520.8L324.6,521.5L322.7,522.2L320.8,522.8L318.9,523.5L317.0,524.1L315.1,524.7L313.2,525.3L311.3,525.9L309.4,526.5L307.5,527.1L305.5,527.7L303.6,528.2L301.7,528.7L299.7,529.3L297.8,529.8L295.8,530.3L293.9,530.8L291.9,531.2L290.0,531.7L288.0,532.1L286.1,532.6L284.1,533.0L282.1,533.4L280.2,533.8L278.2,534.1L276.2,534.5L274.2,534.9L272.3,535.2L270.3,535.5L268.3,535.8L266.3,536.1L264.3,536.4L262.3,536.7L260.3,536.9L258.3,537.2L256.4,537.4L254.4,537.6L252.4,537.8L250.4,538.0L248.4,538.2L246.4,538.3L244.4,538.5L242.4,538.6L240.4,538.7L238.3,538.8L236.3,538.9L234.3,539.0L232.3,539.1L230.3,539.1L228.3,539.2L226.3,539.2L224.3,539.2L222.3,539.3L220.3,539.3L218.3,539.3L216.3,539.3L214.3,539.3L212.3,539.2L210.2,539.2L208.2,539.2L206.2,539.2L204.2,539.1L202.2,539.1L200.2,539.1L198.2,539.0L196.2,539.0L194.2,538.9L192.2,538.9L190.2,538.8L188.2,538.7L186.2,538.7L184.2,538.6L182.2,538.6L180.1,538.5L178.1,538.5L176.1,538.4L174.1,538.4L172.1,538.3L170.1,538.3L168.1,538.3L166.1,538.2L164.1,538.2L162.1,538.2L160.1,538.2L158.1,538.1L156.1,538.1L154.1,538.1L152.0,538.2L150.0,538.2L148.0,538.2L146.0,538.2L144.0,538.3L142.0,538.4L140.0,538.4L138.0,538.5Z" stroke="#a49c20"/>
</g>
<g stroke="#262626" fill="none">
<path d="M102.5,16 H755 V553" stroke-width="2.9"/>
<path d="M103.7,14.6 V553 H756.4" stroke-width="3.5" stroke="#383838"/>
<path d="M93,537.3 H103" stroke-width="2.6"/>
<path d="M98,504.7 H103" stroke-width="2.6"/>
<path d="M98,472.1 H103" stroke-width="2.6"/>
<path d="M98,439.6 H103" stroke-width="2.6"/>
<path d="M93,407.0 H103" stroke-width="2.6"/>
<path d="M98,374.4 H103" stroke-width="2.6"/>
<path d="M98,341.8 H103" stroke-width="2.6"/>
<path d="M98,309.2 H103" stroke-width="2.6"/>
<path d="M93,276.7 H103" stroke-width="2.6"/>
<path d="M98,244.1 H103" stroke-width="2.6"/>
<path d="M98,211.5 H103" stroke-width="2.6"/>
<path d="M98,178.9 H103" stroke-width="2.6"/>
<path d="M93,146.3 H103" stroke-width="2.6"/>
<path d="M98,113.8 H103" stroke-width="2.6"/>
<path d="M98,81.2 H103" stroke-width="2.6"/>
<path d="M98,48.6 H103" stroke-width="2.6"/>
<path d="M93,16.0 H103" stroke-width="2.6"/>
<path d="M135.0,553 V559.5" stroke-width="2.6"/>
<path d="M196.9,553 V563.5" stroke-width="2.6"/>
<path d="M258.8,553 V559.5" stroke-width="2.6"/>
<path d="M320.7,553 V563.5" stroke-width="2.6"/>
<path d="M382.6,553 V559.5" stroke-width="2.6"/>
<path d="M444.5,553 V563.5" stroke-width="2.6"/>
<path d="M506.4,553 V559.5" stroke-width="2.6"/>
<path d="M568.3,553 V563.5" stroke-width="2.6"/>
<path d="M630.2,553 V559.5" stroke-width="2.6"/>
<path d="M692.1,553 V563.5" stroke-width="2.6"/>
<path d="M754.0,553 V559.5" stroke-width="2.6"/>
</g>
<text x="0" y="0" transform="translate(79.50,545.60) scale(1.000,1.060)" font-size="29" fill="#000" text-anchor="end">0</text>
<text x="0" y="0" transform="translate(79.50,415.28) scale(1.000,1.060)" font-size="29" fill="#000" text-anchor="end">16</text>
<text x="0" y="0" transform="translate(79.50,284.96) scale(1.000,1.060)" font-size="29" fill="#000" text-anchor="end">32</text>
<text x="0" y="0" transform="translate(79.50,154.64) scale(1.000,1.060)" font-size="29" fill="#000" text-anchor="end">48</text>
<text x="0" y="0" transform="translate(79.50,24.32) scale(1.000,1.060)" font-size="29" fill="#000" text-anchor="end">64</text>
<text x="0" y="0" transform="translate(135.00,598.60) scale(1.000,1.070)" font-size="29" fill="#000" text-anchor="middle">0.5</text>
<text x="0" y="0" transform="translate(258.80,598.60) scale(1.000,1.070)" font-size="29" fill="#000" text-anchor="middle">0.7</text>
<text x="0" y="0" transform="translate(382.60,598.60) scale(1.000,1.070)" font-size="29" fill="#000" text-anchor="middle">0.9</text>
<text x="0" y="0" transform="translate(506.40,598.60) scale(1.000,1.070)" font-size="29" fill="#000" text-anchor="middle">1.1</text>
<text x="0" y="0" transform="translate(630.20,598.60) scale(1.000,1.070)" font-size="29" fill="#000" text-anchor="middle">1.3</text>
<text x="0" y="0" transform="translate(754.00,598.60) scale(1.000,1.070)" font-size="29" fill="#000" text-anchor="middle">1.5</text>
<text x="317.5" y="641" font-size="29.5" fill="#111" stroke="#111" stroke-width="0.9" textLength="239" lengthAdjust="spacingAndGlyphs"><tspan font-style="italic">E</tspan> / V vs. Ag/AgCl</text>
<text transform="translate(25.5,284) rotate(-90)" font-size="29.5" font-weight="bold" fill="#111" text-anchor="middle"><tspan font-style="italic">I</tspan><tspan dx="2.5"> / µ</tspan><tspan dx="1">A</tspan></text>
<text x="453" y="75" font-size="28.5" fill="#000">pH</text>
<path d="M452,96.0 H506" stroke="#1e1e1e" stroke-width="2.6"/>
<text x="513.5" y="105.3" font-size="29.5" fill="#000">2</text>
<path d="M452,125.2 H506" stroke="#ff0000" stroke-width="2.6"/>
<text x="513.5" y="134.5" font-size="29.5" fill="#000">3</text>
<path d="M452,154.0 H506" stroke="#00f020" stroke-width="2.6"/>
<text x="513.5" y="163.3" font-size="29.5" fill="#000">4</text>
<path d="M452,182.5 H506" stroke="#0c4cff" stroke-width="2.6"/>
<text x="513.5" y="191.8" font-size="29.5" fill="#000">5</text>
<path d="M452,211.3 H506" stroke="#00ffff" stroke-width="2.6"/>
<text x="513.5" y="220.6" font-size="29.5" fill="#000">6</text>
<path d="M452,239.3 H506" stroke="#ff40ff" stroke-width="2.6"/>
<text x="513.5" y="248.6" font-size="29.5" fill="#000">7</text>
<path d="M452,268.0 H506" stroke="#ffff00" stroke-width="2.6"/>
<text x="513.5" y="277.3" font-size="29.5" fill="#000">8</text>
<path d="M452,297.4 H506" stroke="#a49c20" stroke-width="2.6"/>
<text x="513.5" y="306.7" font-size="29.5" fill="#000">9</text>
<g fill="none">
<path d="M164.4,65.6 H387.8" stroke="#262626" stroke-width="2.8"/>
<path d="M164.4,65.6 V292.2" stroke="#4a4a4a" stroke-width="2.5"/>
<path d="M164.4,292.2 H387.8" stroke="#262626" stroke-width="2.8"/>
<path d="M387.8,65.6 V292.2" stroke="#0a3cff" stroke-width="2.8"/>
<path d="M160.9,65.6 H164.4" stroke="#262626" stroke-width="2.2"/>
<path d="M160.9,81.8 H164.4" stroke="#262626" stroke-width="2.2"/>
<path d="M160.9,98.0 H164.4" stroke="#262626" stroke-width="2.2"/>
<path d="M160.9,114.2 H164.4" stroke="#262626" stroke-width="2.2"/>
<path d="M160.9,130.3 H164.4" stroke="#262626" stroke-width="2.2"/>
<path d="M160.9,146.5 H164.4" stroke="#262626" stroke-width="2.2"/>
<path d="M160.9,162.7 H164.4" stroke="#262626" stroke-width="2.2"/>
<path d="M160.9,178.9 H164.4" stroke="#262626" stroke-width="2.2"/>
<path d="M160.9,195.1 H164.4" stroke="#262626" stroke-width="2.2"/>
<path d="M160.9,211.3 H164.4" stroke="#262626" stroke-width="2.2"/>
<path d="M160.9,227.5 H164.4" stroke="#262626" stroke-width="2.2"/>
<path d="M160.9,243.6 H164.4" stroke="#262626" stroke-width="2.2"/>
<path d="M160.9,259.8 H164.4" stroke="#262626" stroke-width="2.2"/>
<path d="M160.9,276.0 H164.4" stroke="#262626" stroke-width="2.2"/>
<path d="M164.4,292.2 V295.7" stroke="#262626" stroke-width="2.2"/>
<path d="M189.2,292.2 V295.7" stroke="#262626" stroke-width="2.2"/>
<path d="M214.0,292.2 V295.7" stroke="#262626" stroke-width="2.2"/>
<path d="M238.9,292.2 V295.7" stroke="#262626" stroke-width="2.2"/>
<path d="M263.7,292.2 V295.7" stroke="#262626" stroke-width="2.2"/>
<path d="M288.5,292.2 V295.7" stroke="#262626" stroke-width="2.2"/>
<path d="M313.3,292.2 V295.7" stroke="#262626" stroke-width="2.2"/>
<path d="M338.2,292.2 V295.7" stroke="#262626" stroke-width="2.2"/>
<path d="M363.0,292.2 V295.7" stroke="#262626" stroke-width="2.2"/>
<path d="M387.8,292.2 V295.7" stroke="#262626" stroke-width="2.2"/>
<path d="M387.8,65.6 H391.3" stroke="#0a3cff" stroke-width="2.2"/>
<path d="M387.8,88.3 H391.3" stroke="#0a3cff" stroke-width="2.2"/>
<path d="M387.8,110.9 H391.3" stroke="#0a3cff" stroke-width="2.2"/>
<path d="M387.8,133.6 H391.3" stroke="#0a3cff" stroke-width="2.2"/>
<path d="M387.8,156.2 H391.3" stroke="#0a3cff" stroke-width="2.2"/>
<path d="M387.8,178.9 H391.3" stroke="#0a3cff" stroke-width="2.2"/>
<path d="M387.8,201.6 H391.3" stroke="#0a3cff" stroke-width="2.2"/>
<path d="M387.8,224.2 H391.3" stroke="#0a3cff" stroke-width="2.2"/>
<path d="M387.8,246.9 H391.3" stroke="#0a3cff" stroke-width="2.2"/>
<path d="M387.8,269.5 H391.3" stroke="#0a3cff" stroke-width="2.2"/>
<path d="M387.8,292.2 H391.3" stroke="#0a3cff" stroke-width="2.2"/>
</g>
<text x="0" y="0" transform="translate(155.00,70.60) scale(1.000,1.080)" font-size="19" font-weight="bold" fill="#111" text-anchor="end">1.1</text>
<text x="0" y="0" transform="translate(155.00,135.34) scale(1.000,1.080)" font-size="19" font-weight="bold" fill="#111" text-anchor="end">1.0</text>
<text x="0" y="0" transform="translate(155.00,200.09) scale(1.000,1.080)" font-size="19" font-weight="bold" fill="#111" text-anchor="end">0.9</text>
<text x="0" y="0" transform="translate(155.00,264.83) scale(1.000,1.080)" font-size="19" font-weight="bold" fill="#111" text-anchor="end">0.8</text>
<text x="0" y="0" transform="translate(186.92,316.50) scale(1.000,1.080)" font-size="19" font-weight="bold" fill="#111" text-anchor="middle">2</text>
<text x="0" y="0" transform="translate(236.57,316.50) scale(1.000,1.080)" font-size="19" font-weight="bold" fill="#111" text-anchor="middle">4</text>
<text x="0" y="0" transform="translate(286.21,316.50) scale(1.000,1.080)" font-size="19" font-weight="bold" fill="#111" text-anchor="middle">6</text>
<text x="0" y="0" transform="translate(335.86,316.50) scale(1.000,1.080)" font-size="19" font-weight="bold" fill="#111" text-anchor="middle">8</text>
<text x="0" y="0" transform="translate(385.50,316.50) scale(1.000,1.080)" font-size="19" font-weight="bold" fill="#111" text-anchor="middle">10</text>
<text x="0" y="0" transform="translate(393.50,72.40) scale(1.000,1.080)" font-size="19" font-weight="bold" fill="#1030ff" text-anchor="start">110</text>
<text x="0" y="0" transform="translate(393.50,163.04) scale(1.000,1.080)" font-size="19" font-weight="bold" fill="#1030ff" text-anchor="start">90</text>
<text x="0" y="0" transform="translate(393.50,253.68) scale(1.000,1.080)" font-size="19" font-weight="bold" fill="#1030ff" text-anchor="start">70</text>
<text x="258" y="334" font-size="19" font-weight="bold" fill="#111">pH</text>
<text transform="translate(121.8,248) rotate(-90)" font-size="17.5" font-weight="bold" fill="#111" textLength="144" lengthAdjust="spacingAndGlyphs"><tspan font-style="italic">E</tspan><tspan font-size="14" dy="3">p</tspan><tspan dy="-3"> / vs. Ag/AgCl</tspan></text>
<text transform="translate(428,96) rotate(90)" font-size="19" font-weight="bold" fill="#1030ff" textLength="160" lengthAdjust="spacingAndGlyphs"><tspan font-style="italic">I</tspan><tspan font-size="15" dy="3">p</tspan><tspan dy="-3"> (µA) / ΔE</tspan><tspan font-size="15" dy="3">1/2</tspan><tspan dy="-3"> (V)</tspan></text>
<path d="M184.5,83 L268.5,120" stroke="#ff3030" stroke-width="1.3"/>
<path d="M255,108.5 L373,270.5" stroke="#333" stroke-width="1.3"/>
<polyline points="189.2,114.0 214.0,194.1 238.9,248.7 263.7,272.8 288.5,245.5 313.3,218.8 338.2,231.7 363.0,202.8" fill="none" stroke="#88a8ff" stroke-width="1.3"/>
<defs><radialGradient id="gb" cx="0.35" cy="0.3" r="0.75"><stop offset="0" stop-color="#bfe8ff"/><stop offset="0.3" stop-color="#2a6aff"/><stop offset="1" stop-color="#0020c0"/></radialGradient>
<radialGradient id="gk" cx="0.35" cy="0.3" r="0.75"><stop offset="0" stop-color="#d0d0d0"/><stop offset="0.3" stop-color="#333"/><stop offset="1" stop-color="#000"/></radialGradient></defs>
<ellipse cx="189.2" cy="85.4" rx="4.3" ry="4.9" fill="url(#gk)"/>
<ellipse cx="214.0" cy="96.8" rx="4.3" ry="4.9" fill="url(#gk)"/>
<ellipse cx="238.9" cy="107.1" rx="4.3" ry="4.9" fill="url(#gk)"/>
<ellipse cx="263.7" cy="128.4" rx="4.3" ry="4.9" fill="url(#gk)"/>
<ellipse cx="288.5" cy="155.4" rx="4.3" ry="4.9" fill="url(#gk)"/>
<ellipse cx="313.3" cy="182.0" rx="4.3" ry="4.9" fill="url(#gk)"/>
<ellipse cx="338.2" cy="214.0" rx="4.3" ry="4.9" fill="url(#gk)"/>
<ellipse cx="363.0" cy="267.0" rx="4.3" ry="4.9" fill="url(#gk)"/>
<ellipse cx="189.2" cy="114.0" rx="4.3" ry="4.9" fill="url(#gb)"/>
<ellipse cx="214.0" cy="194.1" rx="4.3" ry="4.9" fill="url(#gb)"/>
<ellipse cx="238.9" cy="248.7" rx="4.3" ry="4.9" fill="url(#gb)"/>
<ellipse cx="263.7" cy="272.8" rx="4.3" ry="4.9" fill="url(#gb)"/>
<ellipse cx="288.5" cy="245.5" rx="4.3" ry="4.9" fill="url(#gb)"/>
<ellipse cx="313.3" cy="218.8" rx="4.3" ry="4.9" fill="url(#gb)"/>
<ellipse cx="338.2" cy="231.7" rx="4.3" ry="4.9" fill="url(#gb)"/>
<ellipse cx="363.0" cy="202.8" rx="4.3" ry="4.9" fill="url(#gb)"/>
</svg></body></html>
